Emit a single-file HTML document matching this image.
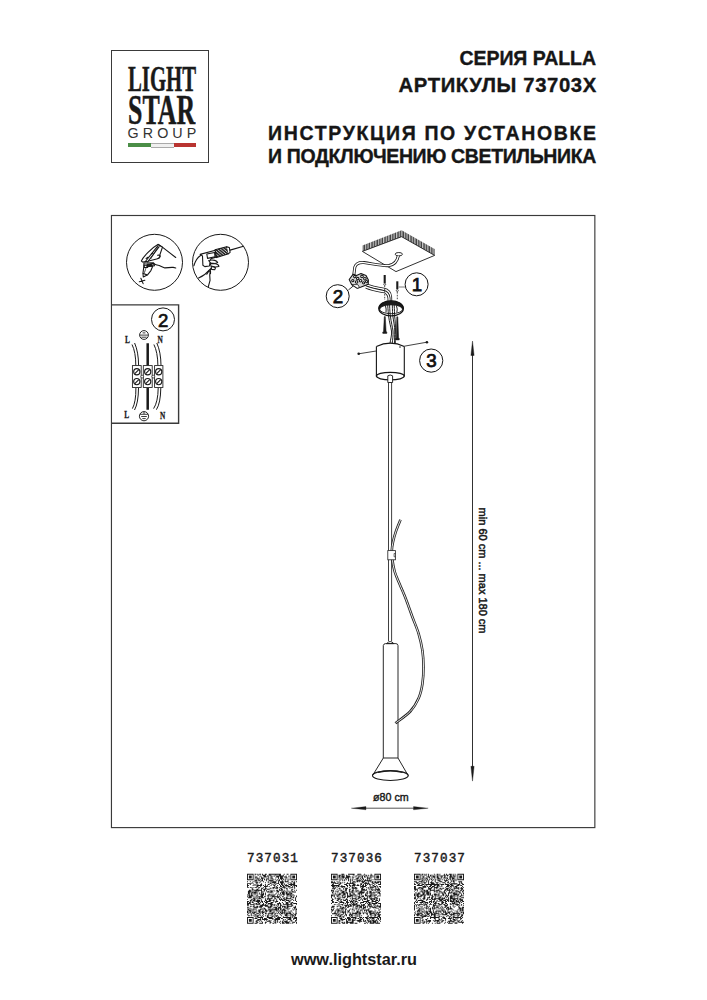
<!DOCTYPE html>
<html><head><meta charset="utf-8">
<style>
html,body{margin:0;padding:0;background:#fff;}
body{width:707px;height:1000px;position:relative;overflow:hidden;font-family:"Liberation Sans",sans-serif;color:#161616;}
.a{position:absolute;white-space:nowrap;line-height:1;}
.h{font-weight:bold;font-size:19.5px;-webkit-text-stroke:0.35px #161616;}
.logo{position:absolute;left:111px;top:50px;width:96px;height:111px;border:1px solid #3a3a3a;}
.lg{position:absolute;font-family:"Liberation Serif",serif;font-weight:bold;color:#1a1a1a;transform-origin:0 0;line-height:1;white-space:nowrap;}
.num{font-family:"Liberation Mono",monospace;font-size:12.6px;color:#1a1a1a;-webkit-text-stroke:0.45px #1a1a1a;}
svg{position:absolute;left:0;top:0;}
</style></head><body>

<div class="logo"></div>
<div class="lg" id="light" style="left:127.6px;top:61.4px;font-size:36.6px;transform:scaleX(0.567);-webkit-text-stroke:0.5px #1a1a1a;">LIGHT</div>
<div class="lg" id="star" style="left:127.8px;top:89.1px;font-size:42.4px;transform:scaleX(0.61);-webkit-text-stroke:0.5px #1a1a1a;">STAR</div>
<div class="a" id="group" style="left:127.5px;top:126.1px;font-size:14.3px;letter-spacing:4.1px;color:#333;">GROUP</div>
<div style="position:absolute;left:128px;top:143px;width:22.5px;height:4px;background:#4b8e47"></div>
<div style="position:absolute;left:150.5px;top:143px;width:23px;height:3px;background:#f0f0f0;border-top:0.5px solid #aaa;border-bottom:0.5px solid #aaa"></div>
<div style="position:absolute;left:173.5px;top:143px;width:22.5px;height:4px;background:#b93431"></div>

<div class="a h" id="t1" style="left:459.5px;top:48.5px;letter-spacing:-0.06px;">СЕРИЯ PALLA</div>
<div class="a h" id="t2" style="left:398.6px;top:74.5px;font-size:20.3px;letter-spacing:0.6px;">АРТИКУЛЫ 73703X</div>
<div class="a h" id="t3" style="left:268.1px;top:123.5px;letter-spacing:1.66px;">ИНСТРУКЦИЯ ПО УСТАНОВКЕ</div>
<div class="a h" id="t4" style="left:268.1px;top:147px;letter-spacing:-0.36px;">И ПОДКЛЮЧЕНИЮ СВЕТИЛЬНИКА</div>

<svg width="707" height="1000" viewBox="0 0 707 1000">
 <defs>
  <pattern id="hatch" width="2.6" height="4" patternUnits="userSpaceOnUse">
   <rect x="0" y="0" width="2.6" height="4" fill="#7a7a7a"/><rect x="0" y="0" width="0.8" height="4" fill="#222"/><rect x="0.8" y="0" width="0.6" height="4" fill="#f0f0f0"/>
  </pattern>
  <pattern id="dh" width="28" height="28" patternUnits="userSpaceOnUse" patternTransform="rotate(-50)">
   <rect x="0" y="0" width="28" height="28" fill="#2a2a2a"/><rect x="0" y="0" width="7" height="28" fill="#fff"/>
  </pattern>
 </defs>

 <!-- frames -->
 <g fill="none" stroke="#3a3a3a">
  <rect x="111.45" y="215.5" width="483.4" height="612.1" stroke-width="1.15"/>
  <path d="M111.45 304.9H178.6V423.2H111.45" stroke-width="1.4"/>
 </g>

 <!-- icon circles -->
 <g fill="none" stroke="#1a1a1a" stroke-width="1">
  <circle cx="154.5" cy="262.3" r="28"/>
  <circle cx="220.5" cy="262.3" r="28"/>
 </g>

 <!-- hand tester icon -->
 <g transform="translate(135,240) scale(0.06365)" fill="none" stroke="#161616" stroke-width="17" stroke-linejoin="round" stroke-linecap="round">
  <path d="M100,330 C130,262 250,132 365,68 L432,112 L392,228 C396,262 380,290 340,300 L200,335 L122,348 Z" fill="#fff"/>
  <path d="M365,70 L430,112 L640,275"/>
  <path d="M160,342 L362,88 M198,346 L380,104"/>
  <path d="M250,292 L360,110" stroke-dasharray="10,14" stroke-width="12"/>
  <path d="M175,290 L205,270 M258,218 L280,205"/>
  <path d="M355,240 Q395,230 395,260 Q388,290 355,290"/>
  <path d="M140,362 L290,360 L275,420 L250,480 L200,545 L130,582 L125,520 L140,410 Z" fill="#fff"/>
  <path d="M185,402 L145,522" stroke-dasharray="12,12" stroke-width="12"/>
  <path d="M128,528 L190,548"/>
  <path d="M142,395 L195,392 L198,430 L145,432 Z"/>
  <path d="M192,382 L255,378 L258,412 L196,418 Z" fill="#1e1e1e"/>
  <path d="M250,372 L300,365 L305,405 L258,412 Z"/>
  <path d="M285,370 Q330,395 380,400 Q420,418 470,438 Q540,428 600,430 L640,440"/>
  <path d="M92,600 L128,686 M68,656 L155,632"/>
 </g>

 <!-- drill icon -->
 <g transform="translate(192,240) scale(0.07779)" fill="none" stroke="#161616" stroke-width="14" stroke-linejoin="round" stroke-linecap="round">
  <path d="M25,330 Q50,240 110,200"/>
  <path d="M85,490 Q170,450 238,370"/>
  <path d="M238,372 Q222,450 232,520 L210,600"/>
  <path d="M105,185 L300,132 L308,220 L242,240 L232,300 L222,335 L165,342 L140,325 L135,205 Z" fill="#fff"/>
  <path d="M190,180 L290,160 L296,215 L200,236 Z"/>
  <path d="M296,126 L446,88 L470,176 L316,226 Z" fill="url(#dh)"/>
  <path d="M446,88 L480,96 L490,160 L470,176" fill="#fff"/>
  <path d="M490,130 L662,80" stroke-width="15"/>
  <path d="M215,265 Q250,250 292,262 Q322,272 330,290 L300,302 L240,296 Z" fill="#fff"/>
  <path d="M232,300 Q272,300 302,305 Q342,312 346,340 L300,346 L246,336 Z" fill="#fff"/>
  <path d="M246,340 Q282,345 302,356 L292,382 L252,378 Z" fill="#fff"/>
  <path d="M190,440 L215,400 L238,398 L238,432"/>
 </g>

 <!-- wiring diagram -->
 <g fill="none" stroke="#1a1a1a" stroke-width="0.9">
  <circle cx="163" cy="319.4" r="11.5" stroke-width="1"/>
  <!-- ground symbols -->
  <circle cx="144" cy="335" r="4.4" stroke-width="0.95"/>
  <path d="M142.6 332.9h2.8M140.1 335.1h7.8M141.3 337.2h5.4" stroke-width="0.85"/>
  <circle cx="144" cy="416.2" r="4.6" stroke-width="0.95"/>
  <path d="M144 411.8v2.3M140 414.3h8M141.2 416.5h5.6M142.3 418.6h3.4" stroke-width="0.85"/>
  <!-- L wires -->
  <path d="M132,344.5 Q135.8,352 135.8,365.5 M134.6,343 Q138.5,352 138.6,365.5" stroke-width="1"/>
  <path d="M135.9,388 Q136,402 132.4,408.6 M138.5,388 Q138.4,403 134.5,410" stroke-width="1"/>
  <!-- N wires -->
  <path d="M153.9,344.5 Q157.7,352 157.9,365.5 M156.8,343 Q160.9,352 161,365.5" stroke-width="1"/>
  <path d="M158.2,388 Q158,402 153.6,408.6 M160.8,388 Q160.6,403 156.4,409.7" stroke-width="1"/>
  <!-- ground bar -->
  <path d="M147.7,343.2V365.5M147.7,388V409.8" stroke-width="2.5"/>
  <!-- terminal blocks -->
  <rect x="132.4" y="365.6" width="8.8" height="21.9" fill="#fff" stroke-width="0.85"/>
  <rect x="143.3" y="365.6" width="8.9" height="21.9" fill="#fff" stroke-width="0.85"/>
  <rect x="154.6" y="365.6" width="8.3" height="21.9" fill="#fff" stroke-width="0.85"/>
  <g stroke-width="1.15">
   <circle cx="136.8" cy="371.7" r="3.1"/><circle cx="147.7" cy="371.7" r="3.1"/><circle cx="158.7" cy="371.7" r="3.1"/>
   <circle cx="136.8" cy="381.6" r="3.1"/><circle cx="147.7" cy="381.6" r="3.1"/><circle cx="158.7" cy="381.6" r="3.1"/>
  </g>
  <path d="M134.8,373.7l4-4M145.7,373.7l4-4M156.7,373.7l4-4M134.8,383.6l4-4M145.7,383.6l4-4M156.7,383.6l4-4" stroke-width="1.1"/>
  <circle cx="142.2" cy="376.6" r="1.4" fill="#fff" stroke-width="0.7"/>
  <circle cx="153.3" cy="376.6" r="1.4" fill="#fff" stroke-width="0.7"/>
 </g>
 <g font-family="Liberation Serif" font-weight="bold" font-size="10.2" fill="#1a1a1a" stroke="#1a1a1a" stroke-width="0.3">
  <text transform="translate(125.1,342.8) scale(0.72,1)">L</text>
  <text transform="translate(157.6,342.8) scale(0.72,1)">N</text>
  <text transform="translate(124.2,417.6) scale(0.72,1)">L</text>
  <text transform="translate(160.1,418.6) scale(0.72,1)">N</text>
 </g>
 <text x="158.1" y="327.3" font-family="Liberation Sans" font-size="18.6" fill="#111" stroke="#111" stroke-width="0.7">2</text>

 <!-- ceiling plate -->
 <path d="M362.4,245.5 L401.6,230.2 L434.6,249 L434.6,255.4 L401.6,236.7 L362.4,251.4 Z" fill="url(#hatch)"/>
 <g fill="none" stroke="#1a1a1a" stroke-width="0.9" stroke-linejoin="round">
  <path d="M362.4,251.4 L401.6,236.7 L434.6,255.4 L396,271.6 Z" fill="#fff"/>
  <ellipse cx="398.8" cy="254.2" rx="3.6" ry="1.7"/>
 </g>

 <!-- wires top -->
 <g fill="none" stroke-linecap="butt" stroke-linejoin="round">
  <path d="M398.4,255.6 C397.5,260 394.5,264.6 389,265.6 C382,266.2 372,263.6 364,262.6 C359,262.2 356,263.6 354.8,267.2 L353.8,275" stroke="#1a1a1a" stroke-width="3.0"/>
  <path d="M398.4,255.6 C397.5,260 394.5,264.6 389,265.6 C382,266.2 372,263.6 364,262.6 C359,262.2 356,263.6 354.8,267.2 L353.8,275" stroke="#fff" stroke-width="1.4"/>
  <path d="M366,284.6 C372,287.2 378,288.2 384,289.2 C388.5,290 390.2,292.5 390.6,297 L390.8,304" stroke="#1a1a1a" stroke-width="3.0"/>
  <path d="M366,284.6 C372,287.2 378,288.2 384,289.2 C388.5,290 390.2,292.5 390.6,297 L390.8,304" stroke="#fff" stroke-width="1.4"/>
  <path d="M366,287.2 C372,289.8 378,290.6 383.6,291.6 C387.4,292.4 388.6,294.6 389,298 L389.2,304" stroke="#1a1a1a" stroke-width="3.0"/>
  <path d="M366,287.2 C372,289.8 378,290.6 383.6,291.6 C387.4,292.4 388.6,294.6 389,298 L389.2,304" stroke="#fff" stroke-width="1.4"/>
 </g>
 <!-- connector -->
 <g stroke="#141414" stroke-width="1.1" stroke-linejoin="round">
  <path d="M349.2,279.5 L353.2,274.2 L356.5,275.4 L361,273.6 L366,275.4 L368.4,280 L368.2,284.3 L360.5,287.2 L357.3,288.2 L351.6,284.6 Z" fill="#d8d8d8"/>
  <path d="M351.6,284.6 L357.3,288.2 L359.5,287.4 L357.8,284.6 Z" fill="#fff" stroke-width="0.8"/>
  <g fill="#fff" stroke-width="1.05">
   <circle cx="354.8" cy="276.6" r="1.25"/><circle cx="357.7" cy="278.6" r="1.25"/>
   <circle cx="362" cy="276.4" r="1.3"/><circle cx="364.9" cy="278.8" r="1.3"/>
   <circle cx="352.8" cy="280.6" r="1.1"/><circle cx="356.6" cy="282" r="1.25"/><circle cx="360.6" cy="280.7" r="1.25"/>
   <circle cx="363.6" cy="282.8" r="1.1"/><circle cx="366.6" cy="281.6" r="1.1"/>
  </g>
 </g>
 <path d="M348.4,290 L353.1,286.1" stroke="#1a1a1a" stroke-width="0.9"/>

 <!-- screws -->
 <g stroke="#1a1a1a" fill="#1a1a1a">
  <path d="M384.7,275 V283" stroke-width="2.1"/>
  <circle cx="384.7" cy="284.3" r="1" fill="#fff" stroke-width="0.7"/>
  <path d="M384.7,285.6 V300" stroke-width="0.8" stroke-dasharray="1.6,1.2"/>
  <path d="M397.3,281.3 V289" stroke-width="2.1"/>
  <circle cx="397.3" cy="290.5" r="1" fill="#fff" stroke-width="0.7"/>
  <path d="M397.3,292 V300" stroke-width="0.8" stroke-dasharray="1.6,1.2"/>
  <path d="M398.5,287 H405" stroke-width="0.8" stroke="#555"/>
  <path d="M384.3,316.6 L385.3,316.6 L386.1,331.4 L386.9,332 L386.8,333.4 L382.8,333.4 L382.7,332 L383.5,331.4 Z" stroke-width="0.5"/>
  <path d="M396.8,316.8 L397.8,316.8 L398.6,338 L399.4,338.6 L399.2,339.9 L395.6,339.9 L395.5,338.6 L396.2,338 Z" stroke-width="0.5"/>
 </g>

 <!-- ring bracket -->
 <g fill="none" stroke="#141414" stroke-linejoin="round">
  <path d="M378.8,308.4 A12.3,7.5 0 0 1 403.4,308.4 L402.6,309.2 A11.5,4.5 0 0 0 379.6,309.2 Z" fill="#1a1a1a" stroke-width="0.6"/>
  <ellipse cx="391.1" cy="308.4" rx="12.3" ry="7.5" stroke-width="1.25"/>
  <ellipse cx="391.1" cy="309.2" rx="11.5" ry="4.5" stroke-width="0.9"/>
 </g>
 <!-- wires through ring -->
 <g fill="none" stroke="#141414" stroke-width="0.95">
  <path d="M387.7,305 C388,310 388.4,314 388.6,316 C389.2,322 391,327 391.5,331 C392,335 390.5,339 390,343.5"/>
  <path d="M389.6,304.5 C389.8,310 390,314 390.4,316 C391,322 392.6,327 393,331 C393.4,336 392.5,340 392.2,343.5"/>
  <path d="M392.3,304.5 C392.4,310 392.6,314 392.8,316 C393.6,321 394.8,327 394.8,331 C394.8,336 394.5,340 394.6,343.5"/>
  <path d="M394.2,305 C394.4,310 394.6,314 394.6,316 C395.2,320 395.6,326 395.4,331 C395.2,336 395.2,340 395.3,343.5"/>
  <path d="M385.5,306 Q386.5,309 386,312.5 M396.5,306 Q397.8,309 396.8,312.5"/>
 </g>

 <!-- canopy -->
 <g fill="none" stroke="#141414" stroke-width="1.1">
  <path d="M376.4,346.5 Q390.3,339.8 404.3,346.5" />
  <path d="M376.4,346.5 V376.2 M404.3,346.5 V376.2"/>
  <ellipse cx="390.35" cy="376.1" rx="13.95" ry="3.8" stroke-width="1.25"/>
  <path d="M376.2,351 L358.7,353.8 M404.3,346.2 L426.9,342.2" stroke-width="0.8"/>
 </g>
 <g fill="#1a1a1a">
  <circle cx="358.7" cy="353.8" r="1.3"/>
  <circle cx="426.9" cy="342.2" r="1.3"/>
  <circle cx="400" cy="347" r="0.8"/>
 </g>

 <!-- rod + lamp -->
 <g fill="none" stroke="#1e1e1e" stroke-width="0.95">
  <path d="M387.8,382.5 V375.8 Q390.2,374.2 392.6,375.8 V382.5 Z" fill="#fff"/>
  <path d="M388.5,382.5 V641 M391.6,382.5 V641" stroke="#2a2a2a" stroke-width="0.9"/>
  <path d="M386.6,643.6 Q390.2,639.5 393.8,643.6 Z" fill="#fff"/>
  <path d="M383.3,758 V645.5 Q383.6,643.7 385.5,643.6 H395.9 Q397.8,643.7 398,645.5 V758"/>
  <path d="M383.3,758 L372.5,775.6 M398,758 L408.2,775.6 M383.3,758 H398" stroke="#1a1a1a"/>
  <ellipse cx="390.35" cy="775.6" rx="17.9" ry="4.9" stroke="#1a1a1a" stroke-width="1.1"/>
  <path d="M378,772.3 Q390.3,769.2 402.7,772.3" stroke="#1a1a1a" stroke-width="1.3"/>
 </g>

 <!-- cable -->
 <g fill="none">
  <path d="M400.50,519.80 C399.75,521.70 397.25,527.50 396.00,531.20 C394.75,534.90 393.70,538.80 393.00,542.00 C392.30,545.20 391.90,547.40 391.80,550.40 C391.70,553.40 391.90,556.40 392.40,560.00 C392.90,563.60 393.60,568.00 394.80,572.00 C396.00,576.00 397.80,579.62 399.60,584.00 C401.40,588.38 403.47,592.80 405.60,598.30 C407.73,603.80 410.23,611.12 412.40,617.00 C414.57,622.88 416.93,628.03 418.60,633.60 C420.27,639.17 421.58,644.82 422.40,650.40 C423.22,655.98 423.50,661.50 423.50,667.10 C423.50,672.70 423.22,678.80 422.40,684.00 C421.58,689.20 420.63,693.72 418.60,698.30 C416.57,702.88 414.07,707.35 410.20,711.50 C406.33,715.65 397.87,721.25 395.40,723.20" stroke="#222" stroke-width="2.6" stroke-linecap="butt"/>
  <path d="M400.50,519.80 C399.75,521.70 397.25,527.50 396.00,531.20 C394.75,534.90 393.70,538.80 393.00,542.00 C392.30,545.20 391.90,547.40 391.80,550.40 C391.70,553.40 391.90,556.40 392.40,560.00 C392.90,563.60 393.60,568.00 394.80,572.00 C396.00,576.00 397.80,579.62 399.60,584.00 C401.40,588.38 403.47,592.80 405.60,598.30 C407.73,603.80 410.23,611.12 412.40,617.00 C414.57,622.88 416.93,628.03 418.60,633.60 C420.27,639.17 421.58,644.82 422.40,650.40 C423.22,655.98 423.50,661.50 423.50,667.10 C423.50,672.70 423.22,678.80 422.40,684.00 C421.58,689.20 420.63,693.72 418.60,698.30 C416.57,702.88 414.07,707.35 410.20,711.50 C406.33,715.65 397.87,721.25 395.40,723.20" stroke="#fff" stroke-width="0.9" stroke-linecap="butt"/>
 </g>
 <rect x="387.8" y="550.6" width="7.6" height="9.2" fill="#fff" stroke="#2a2a2a" stroke-width="0.85"/>
 <path d="M395.4,553.5 h-1.3 v3.3 h1.3" fill="none" stroke="#2a2a2a" stroke-width="0.7"/>

 <!-- label circles -->
 <g fill="none" stroke="#141414" stroke-width="1.0">
  <circle cx="416.6" cy="284.3" r="11.5"/>
  <circle cx="337.7" cy="296.2" r="11.5"/>
  <circle cx="431.2" cy="360.6" r="11.6"/>
 </g>
 <g font-family="Liberation Sans" font-size="18.8" fill="#111" stroke="#111" stroke-width="0.75" text-anchor="middle">
  <text x="417" y="291.1">1</text>
  <text x="338" y="303.1">2</text>
  <text x="431.6" y="367.4">3</text>
 </g>

 <!-- dimension arrows -->
 <g stroke="#1a1a1a" stroke-width="0.9" fill="#1a1a1a">
  <path d="M472.5,352 V770" fill="none"/>
  <path d="M472.5,341 L474.1,355.5 L470.9,355.5 Z" stroke-width="0.4"/>
  <path d="M472.5,781.1 L474.1,766.3 L470.9,766.3 Z" stroke-width="0.4"/>
  <path d="M362,808.2 H418" fill="none" stroke="#555" stroke-width="1"/>
  <path d="M351.3,808.2 L366,806.6 L366,809.8 Z" stroke-width="0.3"/>
  <path d="M428.2,808.2 L413.5,806.6 L413.5,809.8 Z" stroke-width="0.3"/>
 </g>
 <text x="373" y="801" font-family="Liberation Sans" font-size="10.7" fill="#1a1a1a" stroke="#1a1a1a" stroke-width="0.4">ø80 cm</text>
 <text transform="translate(478.8,507.6) rotate(90)" font-family="Liberation Sans" font-size="11" fill="#1a1a1a" stroke="#1a1a1a" stroke-width="0.5">min 60 cm ... max 180 cm</text>

 <!-- QR codes -->
 <g fill="#1a1a1a">
  <path d="M247.00 873.70h6.60v0.94h-6.60zM254.55 873.70h1.89v0.94h-1.89zM257.38 873.70h0.94v0.94h-0.94zM259.26 873.70h1.89v0.94h-1.89zM262.09 873.70h0.94v0.94h-0.94zM264.92 873.70h1.89v0.94h-1.89zM268.70 873.70h12.26v0.94h-12.26zM283.79 873.70h0.94v0.94h-0.94zM286.62 873.70h1.89v0.94h-1.89zM290.40 873.70h6.60v0.94h-6.60zM247.00 874.64h0.94v0.94h-0.94zM252.66 874.64h0.94v0.94h-0.94zM257.38 874.64h1.89v0.94h-1.89zM262.09 874.64h3.77v0.94h-3.77zM268.70 874.64h1.89v0.94h-1.89zM275.30 874.64h0.94v0.94h-0.94zM279.08 874.64h1.89v0.94h-1.89zM282.85 874.64h0.94v0.94h-0.94zM290.40 874.64h0.94v0.94h-0.94zM296.06 874.64h0.94v0.94h-0.94zM247.00 875.59h0.94v0.94h-0.94zM248.89 875.59h2.83v0.94h-2.83zM252.66 875.59h0.94v0.94h-0.94zM254.55 875.59h0.94v0.94h-0.94zM260.21 875.59h0.94v0.94h-0.94zM263.04 875.59h2.83v0.94h-2.83zM266.81 875.59h1.89v0.94h-1.89zM269.64 875.59h2.83v0.94h-2.83zM273.42 875.59h1.89v0.94h-1.89zM276.25 875.59h7.55v0.94h-7.55zM285.68 875.59h0.94v0.94h-0.94zM288.51 875.59h0.94v0.94h-0.94zM290.40 875.59h0.94v0.94h-0.94zM292.28 875.59h2.83v0.94h-2.83zM296.06 875.59h0.94v0.94h-0.94zM247.00 876.53h0.94v0.94h-0.94zM248.89 876.53h2.83v0.94h-2.83zM252.66 876.53h0.94v0.94h-0.94zM255.49 876.53h1.89v0.94h-1.89zM259.26 876.53h0.94v0.94h-0.94zM261.15 876.53h0.94v0.94h-0.94zM263.98 876.53h2.83v0.94h-2.83zM267.75 876.53h0.94v0.94h-0.94zM271.53 876.53h0.94v0.94h-0.94zM276.25 876.53h2.83v0.94h-2.83zM280.02 876.53h2.83v0.94h-2.83zM283.79 876.53h2.83v0.94h-2.83zM288.51 876.53h0.94v0.94h-0.94zM290.40 876.53h0.94v0.94h-0.94zM292.28 876.53h2.83v0.94h-2.83zM296.06 876.53h0.94v0.94h-0.94zM247.00 877.47h0.94v0.94h-0.94zM248.89 877.47h2.83v0.94h-2.83zM252.66 877.47h0.94v0.94h-0.94zM254.55 877.47h1.89v0.94h-1.89zM257.38 877.47h0.94v0.94h-0.94zM261.15 877.47h2.83v0.94h-2.83zM267.75 877.47h0.94v0.94h-0.94zM269.64 877.47h2.83v0.94h-2.83zM275.30 877.47h0.94v0.94h-0.94zM278.13 877.47h0.94v0.94h-0.94zM280.02 877.47h2.83v0.94h-2.83zM285.68 877.47h1.89v0.94h-1.89zM290.40 877.47h0.94v0.94h-0.94zM292.28 877.47h2.83v0.94h-2.83zM296.06 877.47h0.94v0.94h-0.94zM247.00 878.42h0.94v0.94h-0.94zM252.66 878.42h0.94v0.94h-0.94zM256.43 878.42h3.77v0.94h-3.77zM261.15 878.42h1.89v0.94h-1.89zM263.98 878.42h0.94v0.94h-0.94zM265.87 878.42h2.83v0.94h-2.83zM271.53 878.42h1.89v0.94h-1.89zM278.13 878.42h0.94v0.94h-0.94zM280.02 878.42h3.77v0.94h-3.77zM284.74 878.42h0.94v0.94h-0.94zM288.51 878.42h0.94v0.94h-0.94zM290.40 878.42h0.94v0.94h-0.94zM296.06 878.42h0.94v0.94h-0.94zM247.00 879.36h6.60v0.94h-6.60zM254.55 879.36h0.94v0.94h-0.94zM256.43 879.36h0.94v0.94h-0.94zM258.32 879.36h0.94v0.94h-0.94zM260.21 879.36h0.94v0.94h-0.94zM262.09 879.36h0.94v0.94h-0.94zM263.98 879.36h0.94v0.94h-0.94zM265.87 879.36h0.94v0.94h-0.94zM267.75 879.36h0.94v0.94h-0.94zM269.64 879.36h0.94v0.94h-0.94zM271.53 879.36h0.94v0.94h-0.94zM273.42 879.36h0.94v0.94h-0.94zM275.30 879.36h0.94v0.94h-0.94zM277.19 879.36h0.94v0.94h-0.94zM279.08 879.36h0.94v0.94h-0.94zM280.96 879.36h0.94v0.94h-0.94zM282.85 879.36h0.94v0.94h-0.94zM284.74 879.36h0.94v0.94h-0.94zM286.62 879.36h0.94v0.94h-0.94zM288.51 879.36h0.94v0.94h-0.94zM290.40 879.36h6.60v0.94h-6.60zM254.55 880.30h2.83v0.94h-2.83zM258.32 880.30h1.89v0.94h-1.89zM261.15 880.30h1.89v0.94h-1.89zM265.87 880.30h0.94v0.94h-0.94zM268.70 880.30h4.72v0.94h-4.72zM276.25 880.30h0.94v0.94h-0.94zM278.13 880.30h1.89v0.94h-1.89zM281.91 880.30h0.94v0.94h-0.94zM284.74 880.30h0.94v0.94h-0.94zM287.57 880.30h0.94v0.94h-0.94zM247.00 881.25h0.94v0.94h-0.94zM249.83 881.25h0.94v0.94h-0.94zM252.66 881.25h0.94v0.94h-0.94zM254.55 881.25h0.94v0.94h-0.94zM256.43 881.25h0.94v0.94h-0.94zM260.21 881.25h0.94v0.94h-0.94zM263.04 881.25h0.94v0.94h-0.94zM267.75 881.25h0.94v0.94h-0.94zM270.58 881.25h0.94v0.94h-0.94zM272.47 881.25h3.77v0.94h-3.77zM278.13 881.25h0.94v0.94h-0.94zM280.02 881.25h3.77v0.94h-3.77zM284.74 881.25h3.77v0.94h-3.77zM291.34 881.25h1.89v0.94h-1.89zM294.17 881.25h0.94v0.94h-0.94zM296.06 881.25h0.94v0.94h-0.94zM251.72 882.19h0.94v0.94h-0.94zM255.49 882.19h2.83v0.94h-2.83zM259.26 882.19h0.94v0.94h-0.94zM264.92 882.19h0.94v0.94h-0.94zM267.75 882.19h0.94v0.94h-0.94zM269.64 882.19h0.94v0.94h-0.94zM271.53 882.19h4.72v0.94h-4.72zM278.13 882.19h0.94v0.94h-0.94zM280.02 882.19h3.77v0.94h-3.77zM288.51 882.19h0.94v0.94h-0.94zM290.40 882.19h0.94v0.94h-0.94zM293.23 882.19h1.89v0.94h-1.89zM247.00 883.13h4.72v0.94h-4.72zM252.66 883.13h0.94v0.94h-0.94zM256.43 883.13h0.94v0.94h-0.94zM261.15 883.13h0.94v0.94h-0.94zM269.64 883.13h1.89v0.94h-1.89zM274.36 883.13h0.94v0.94h-0.94zM276.25 883.13h2.83v0.94h-2.83zM280.96 883.13h1.89v0.94h-1.89zM283.79 883.13h0.94v0.94h-0.94zM287.57 883.13h0.94v0.94h-0.94zM290.40 883.13h1.89v0.94h-1.89zM293.23 883.13h1.89v0.94h-1.89zM247.00 884.08h0.94v0.94h-0.94zM249.83 884.08h0.94v0.94h-0.94zM253.60 884.08h0.94v0.94h-0.94zM255.49 884.08h0.94v0.94h-0.94zM257.38 884.08h0.94v0.94h-0.94zM260.21 884.08h1.89v0.94h-1.89zM264.92 884.08h0.94v0.94h-0.94zM267.75 884.08h1.89v0.94h-1.89zM271.53 884.08h0.94v0.94h-0.94zM273.42 884.08h0.94v0.94h-0.94zM275.30 884.08h0.94v0.94h-0.94zM279.08 884.08h0.94v0.94h-0.94zM280.96 884.08h1.89v0.94h-1.89zM283.79 884.08h0.94v0.94h-0.94zM285.68 884.08h0.94v0.94h-0.94zM288.51 884.08h6.60v0.94h-6.60zM247.00 885.02h1.89v0.94h-1.89zM252.66 885.02h0.94v0.94h-0.94zM254.55 885.02h0.94v0.94h-0.94zM256.43 885.02h5.66v0.94h-5.66zM263.04 885.02h0.94v0.94h-0.94zM264.92 885.02h0.94v0.94h-0.94zM266.81 885.02h0.94v0.94h-0.94zM270.58 885.02h0.94v0.94h-0.94zM273.42 885.02h1.89v0.94h-1.89zM277.19 885.02h0.94v0.94h-0.94zM280.02 885.02h0.94v0.94h-0.94zM281.91 885.02h1.89v0.94h-1.89zM284.74 885.02h3.77v0.94h-3.77zM290.40 885.02h1.89v0.94h-1.89zM293.23 885.02h3.77v0.94h-3.77zM247.00 885.96h0.94v0.94h-0.94zM256.43 885.96h1.89v0.94h-1.89zM260.21 885.96h0.94v0.94h-0.94zM263.98 885.96h3.77v0.94h-3.77zM268.70 885.96h0.94v0.94h-0.94zM274.36 885.96h0.94v0.94h-0.94zM276.25 885.96h0.94v0.94h-0.94zM280.02 885.96h1.89v0.94h-1.89zM282.85 885.96h1.89v0.94h-1.89zM285.68 885.96h0.94v0.94h-0.94zM287.57 885.96h2.83v0.94h-2.83zM292.28 885.96h0.94v0.94h-0.94zM294.17 885.96h0.94v0.94h-0.94zM296.06 885.96h0.94v0.94h-0.94zM247.00 886.91h1.89v0.94h-1.89zM249.83 886.91h1.89v0.94h-1.89zM252.66 886.91h0.94v0.94h-0.94zM254.55 886.91h2.83v0.94h-2.83zM258.32 886.91h1.89v0.94h-1.89zM263.04 886.91h0.94v0.94h-0.94zM264.92 886.91h0.94v0.94h-0.94zM272.47 886.91h2.83v0.94h-2.83zM276.25 886.91h1.89v0.94h-1.89zM279.08 886.91h0.94v0.94h-0.94zM281.91 886.91h3.77v0.94h-3.77zM288.51 886.91h0.94v0.94h-0.94zM290.40 886.91h2.83v0.94h-2.83zM294.17 886.91h0.94v0.94h-0.94zM251.72 887.85h0.94v0.94h-0.94zM258.32 887.85h0.94v0.94h-0.94zM261.15 887.85h1.89v0.94h-1.89zM264.92 887.85h1.89v0.94h-1.89zM269.64 887.85h1.89v0.94h-1.89zM272.47 887.85h1.89v0.94h-1.89zM275.30 887.85h2.83v0.94h-2.83zM280.02 887.85h1.89v0.94h-1.89zM283.79 887.85h0.94v0.94h-0.94zM285.68 887.85h1.89v0.94h-1.89zM289.45 887.85h0.94v0.94h-0.94zM294.17 887.85h0.94v0.94h-0.94zM251.72 888.79h1.89v0.94h-1.89zM256.43 888.79h1.89v0.94h-1.89zM261.15 888.79h0.94v0.94h-0.94zM263.04 888.79h2.83v0.94h-2.83zM266.81 888.79h2.83v0.94h-2.83zM279.08 888.79h0.94v0.94h-0.94zM280.96 888.79h1.89v0.94h-1.89zM286.62 888.79h0.94v0.94h-0.94zM291.34 888.79h1.89v0.94h-1.89zM248.89 889.74h1.89v0.94h-1.89zM251.72 889.74h0.94v0.94h-0.94zM253.60 889.74h8.49v0.94h-8.49zM263.98 889.74h0.94v0.94h-0.94zM265.87 889.74h0.94v0.94h-0.94zM269.64 889.74h0.94v0.94h-0.94zM271.53 889.74h0.94v0.94h-0.94zM273.42 889.74h0.94v0.94h-0.94zM276.25 889.74h1.89v0.94h-1.89zM279.08 889.74h3.77v0.94h-3.77zM283.79 889.74h0.94v0.94h-0.94zM286.62 889.74h0.94v0.94h-0.94zM291.34 889.74h0.94v0.94h-0.94zM294.17 889.74h0.94v0.94h-0.94zM296.06 889.74h0.94v0.94h-0.94zM247.94 890.68h3.77v0.94h-3.77zM252.66 890.68h0.94v0.94h-0.94zM255.49 890.68h1.89v0.94h-1.89zM258.32 890.68h0.94v0.94h-0.94zM261.15 890.68h0.94v0.94h-0.94zM263.04 890.68h1.89v0.94h-1.89zM265.87 890.68h0.94v0.94h-0.94zM267.75 890.68h0.94v0.94h-0.94zM270.58 890.68h1.89v0.94h-1.89zM274.36 890.68h0.94v0.94h-0.94zM276.25 890.68h2.83v0.94h-2.83zM282.85 890.68h0.94v0.94h-0.94zM284.74 890.68h0.94v0.94h-0.94zM287.57 890.68h1.89v0.94h-1.89zM290.40 890.68h2.83v0.94h-2.83zM247.94 891.62h2.83v0.94h-2.83zM251.72 891.62h0.94v0.94h-0.94zM253.60 891.62h2.83v0.94h-2.83zM257.38 891.62h0.94v0.94h-0.94zM261.15 891.62h1.89v0.94h-1.89zM266.81 891.62h6.60v0.94h-6.60zM277.19 891.62h1.89v0.94h-1.89zM280.96 891.62h3.77v0.94h-3.77zM285.68 891.62h1.89v0.94h-1.89zM289.45 891.62h0.94v0.94h-0.94zM292.28 891.62h3.77v0.94h-3.77zM247.94 892.57h1.89v0.94h-1.89zM250.77 892.57h6.60v0.94h-6.60zM259.26 892.57h0.94v0.94h-0.94zM261.15 892.57h0.94v0.94h-0.94zM263.04 892.57h0.94v0.94h-0.94zM264.92 892.57h0.94v0.94h-0.94zM270.58 892.57h0.94v0.94h-0.94zM276.25 892.57h0.94v0.94h-0.94zM280.02 892.57h0.94v0.94h-0.94zM281.91 892.57h2.83v0.94h-2.83zM285.68 892.57h1.89v0.94h-1.89zM288.51 892.57h3.77v0.94h-3.77zM247.94 893.51h1.89v0.94h-1.89zM250.77 893.51h0.94v0.94h-0.94zM254.55 893.51h0.94v0.94h-0.94zM257.38 893.51h0.94v0.94h-0.94zM259.26 893.51h0.94v0.94h-0.94zM261.15 893.51h2.83v0.94h-2.83zM264.92 893.51h0.94v0.94h-0.94zM268.70 893.51h0.94v0.94h-0.94zM272.47 893.51h0.94v0.94h-0.94zM275.30 893.51h0.94v0.94h-0.94zM278.13 893.51h0.94v0.94h-0.94zM280.02 893.51h0.94v0.94h-0.94zM281.91 893.51h2.83v0.94h-2.83zM285.68 893.51h3.77v0.94h-3.77zM290.40 893.51h1.89v0.94h-1.89zM247.00 894.45h0.94v0.94h-0.94zM248.89 894.45h0.94v0.94h-0.94zM250.77 894.45h2.83v0.94h-2.83zM254.55 894.45h0.94v0.94h-0.94zM256.43 894.45h0.94v0.94h-0.94zM260.21 894.45h3.77v0.94h-3.77zM264.92 894.45h0.94v0.94h-0.94zM267.75 894.45h4.72v0.94h-4.72zM273.42 894.45h1.89v0.94h-1.89zM277.19 894.45h0.94v0.94h-0.94zM279.08 894.45h0.94v0.94h-0.94zM280.96 894.45h0.94v0.94h-0.94zM282.85 894.45h1.89v0.94h-1.89zM286.62 894.45h4.72v0.94h-4.72zM292.28 894.45h1.89v0.94h-1.89zM247.94 895.40h4.72v0.94h-4.72zM256.43 895.40h1.89v0.94h-1.89zM261.15 895.40h1.89v0.94h-1.89zM266.81 895.40h1.89v0.94h-1.89zM271.53 895.40h2.83v0.94h-2.83zM277.19 895.40h0.94v0.94h-0.94zM280.02 895.40h0.94v0.94h-0.94zM286.62 895.40h0.94v0.94h-0.94zM290.40 895.40h1.89v0.94h-1.89zM294.17 895.40h0.94v0.94h-0.94zM296.06 895.40h0.94v0.94h-0.94zM247.00 896.34h0.94v0.94h-0.94zM248.89 896.34h2.83v0.94h-2.83zM252.66 896.34h0.94v0.94h-0.94zM254.55 896.34h0.94v0.94h-0.94zM256.43 896.34h0.94v0.94h-0.94zM258.32 896.34h4.72v0.94h-4.72zM263.98 896.34h1.89v0.94h-1.89zM267.75 896.34h0.94v0.94h-0.94zM269.64 896.34h0.94v0.94h-0.94zM271.53 896.34h8.49v0.94h-8.49zM281.91 896.34h1.89v0.94h-1.89zM286.62 896.34h0.94v0.94h-0.94zM288.51 896.34h0.94v0.94h-0.94zM290.40 896.34h1.89v0.94h-1.89zM293.23 896.34h0.94v0.94h-0.94zM296.06 896.34h0.94v0.94h-0.94zM247.94 897.28h3.77v0.94h-3.77zM253.60 897.28h0.94v0.94h-0.94zM255.49 897.28h0.94v0.94h-0.94zM257.38 897.28h0.94v0.94h-0.94zM259.26 897.28h0.94v0.94h-0.94zM261.15 897.28h2.83v0.94h-2.83zM267.75 897.28h0.94v0.94h-0.94zM271.53 897.28h0.94v0.94h-0.94zM274.36 897.28h0.94v0.94h-0.94zM277.19 897.28h1.89v0.94h-1.89zM280.02 897.28h0.94v0.94h-0.94zM283.79 897.28h0.94v0.94h-0.94zM285.68 897.28h1.89v0.94h-1.89zM290.40 897.28h0.94v0.94h-0.94zM292.28 897.28h1.89v0.94h-1.89zM295.11 897.28h0.94v0.94h-0.94zM252.66 898.23h2.83v0.94h-2.83zM256.43 898.23h0.94v0.94h-0.94zM258.32 898.23h2.83v0.94h-2.83zM264.92 898.23h0.94v0.94h-0.94zM266.81 898.23h5.66v0.94h-5.66zM274.36 898.23h1.89v0.94h-1.89zM279.08 898.23h0.94v0.94h-0.94zM280.96 898.23h0.94v0.94h-0.94zM282.85 898.23h1.89v0.94h-1.89zM285.68 898.23h5.66v0.94h-5.66zM295.11 898.23h0.94v0.94h-0.94zM247.00 899.17h0.94v0.94h-0.94zM250.77 899.17h1.89v0.94h-1.89zM253.60 899.17h1.89v0.94h-1.89zM257.38 899.17h0.94v0.94h-0.94zM261.15 899.17h0.94v0.94h-0.94zM264.92 899.17h0.94v0.94h-0.94zM266.81 899.17h0.94v0.94h-0.94zM268.70 899.17h1.89v0.94h-1.89zM273.42 899.17h0.94v0.94h-0.94zM276.25 899.17h0.94v0.94h-0.94zM279.08 899.17h3.77v0.94h-3.77zM283.79 899.17h2.83v0.94h-2.83zM291.34 899.17h1.89v0.94h-1.89zM295.11 899.17h0.94v0.94h-0.94zM249.83 900.12h1.89v0.94h-1.89zM252.66 900.12h2.83v0.94h-2.83zM256.43 900.12h3.77v0.94h-3.77zM261.15 900.12h0.94v0.94h-0.94zM264.92 900.12h1.89v0.94h-1.89zM268.70 900.12h2.83v0.94h-2.83zM272.47 900.12h1.89v0.94h-1.89zM276.25 900.12h0.94v0.94h-0.94zM280.02 900.12h0.94v0.94h-0.94zM281.91 900.12h2.83v0.94h-2.83zM285.68 900.12h3.77v0.94h-3.77zM290.40 900.12h0.94v0.94h-0.94zM293.23 900.12h0.94v0.94h-0.94zM295.11 900.12h0.94v0.94h-0.94zM247.00 901.06h1.89v0.94h-1.89zM249.83 901.06h0.94v0.94h-0.94zM251.72 901.06h0.94v0.94h-0.94zM253.60 901.06h0.94v0.94h-0.94zM255.49 901.06h4.72v0.94h-4.72zM261.15 901.06h1.89v0.94h-1.89zM263.98 901.06h0.94v0.94h-0.94zM265.87 901.06h4.72v0.94h-4.72zM273.42 901.06h0.94v0.94h-0.94zM275.30 901.06h2.83v0.94h-2.83zM284.74 901.06h0.94v0.94h-0.94zM288.51 901.06h1.89v0.94h-1.89zM296.06 901.06h0.94v0.94h-0.94zM247.00 902.00h0.94v0.94h-0.94zM248.89 902.00h1.89v0.94h-1.89zM251.72 902.00h1.89v0.94h-1.89zM257.38 902.00h1.89v0.94h-1.89zM260.21 902.00h0.94v0.94h-0.94zM262.09 902.00h0.94v0.94h-0.94zM264.92 902.00h2.83v0.94h-2.83zM270.58 902.00h2.83v0.94h-2.83zM275.30 902.00h0.94v0.94h-0.94zM279.08 902.00h0.94v0.94h-0.94zM281.91 902.00h0.94v0.94h-0.94zM285.68 902.00h2.83v0.94h-2.83zM289.45 902.00h0.94v0.94h-0.94zM291.34 902.00h1.89v0.94h-1.89zM247.00 902.95h3.77v0.94h-3.77zM253.60 902.95h0.94v0.94h-0.94zM255.49 902.95h1.89v0.94h-1.89zM258.32 902.95h1.89v0.94h-1.89zM263.04 902.95h0.94v0.94h-0.94zM265.87 902.95h0.94v0.94h-0.94zM267.75 902.95h4.72v0.94h-4.72zM277.19 902.95h3.77v0.94h-3.77zM282.85 902.95h0.94v0.94h-0.94zM285.68 902.95h2.83v0.94h-2.83zM290.40 902.95h1.89v0.94h-1.89zM293.23 902.95h3.77v0.94h-3.77zM247.00 903.89h1.89v0.94h-1.89zM249.83 903.89h4.72v0.94h-4.72zM255.49 903.89h4.72v0.94h-4.72zM262.09 903.89h1.89v0.94h-1.89zM264.92 903.89h0.94v0.94h-0.94zM267.75 903.89h0.94v0.94h-0.94zM269.64 903.89h3.77v0.94h-3.77zM274.36 903.89h0.94v0.94h-0.94zM277.19 903.89h1.89v0.94h-1.89zM280.02 903.89h0.94v0.94h-0.94zM282.85 903.89h9.43v0.94h-9.43zM296.06 903.89h0.94v0.94h-0.94zM247.00 904.83h1.89v0.94h-1.89zM253.60 904.83h0.94v0.94h-0.94zM260.21 904.83h7.55v0.94h-7.55zM270.58 904.83h1.89v0.94h-1.89zM273.42 904.83h1.89v0.94h-1.89zM276.25 904.83h0.94v0.94h-0.94zM278.13 904.83h0.94v0.94h-0.94zM280.02 904.83h1.89v0.94h-1.89zM286.62 904.83h1.89v0.94h-1.89zM291.34 904.83h1.89v0.94h-1.89zM249.83 905.78h1.89v0.94h-1.89zM252.66 905.78h1.89v0.94h-1.89zM256.43 905.78h1.89v0.94h-1.89zM259.26 905.78h3.77v0.94h-3.77zM264.92 905.78h3.77v0.94h-3.77zM269.64 905.78h2.83v0.94h-2.83zM277.19 905.78h0.94v0.94h-0.94zM280.02 905.78h0.94v0.94h-0.94zM281.91 905.78h3.77v0.94h-3.77zM286.62 905.78h5.66v0.94h-5.66zM295.11 905.78h0.94v0.94h-0.94zM247.00 906.72h1.89v0.94h-1.89zM253.60 906.72h4.72v0.94h-4.72zM259.26 906.72h2.83v0.94h-2.83zM267.75 906.72h3.77v0.94h-3.77zM273.42 906.72h3.77v0.94h-3.77zM278.13 906.72h2.83v0.94h-2.83zM281.91 906.72h0.94v0.94h-0.94zM283.79 906.72h1.89v0.94h-1.89zM286.62 906.72h1.89v0.94h-1.89zM293.23 906.72h2.83v0.94h-2.83zM248.89 907.66h1.89v0.94h-1.89zM252.66 907.66h0.94v0.94h-0.94zM254.55 907.66h0.94v0.94h-0.94zM256.43 907.66h0.94v0.94h-0.94zM263.04 907.66h1.89v0.94h-1.89zM267.75 907.66h0.94v0.94h-0.94zM269.64 907.66h0.94v0.94h-0.94zM272.47 907.66h0.94v0.94h-0.94zM275.30 907.66h1.89v0.94h-1.89zM278.13 907.66h2.83v0.94h-2.83zM284.74 907.66h3.77v0.94h-3.77zM289.45 907.66h0.94v0.94h-0.94zM294.17 907.66h1.89v0.94h-1.89zM247.00 908.61h1.89v0.94h-1.89zM250.77 908.61h0.94v0.94h-0.94zM253.60 908.61h0.94v0.94h-0.94zM255.49 908.61h0.94v0.94h-0.94zM260.21 908.61h2.83v0.94h-2.83zM263.98 908.61h1.89v0.94h-1.89zM268.70 908.61h0.94v0.94h-0.94zM270.58 908.61h0.94v0.94h-0.94zM272.47 908.61h0.94v0.94h-0.94zM274.36 908.61h4.72v0.94h-4.72zM280.02 908.61h1.89v0.94h-1.89zM282.85 908.61h1.89v0.94h-1.89zM286.62 908.61h0.94v0.94h-0.94zM288.51 908.61h0.94v0.94h-0.94zM292.28 908.61h0.94v0.94h-0.94zM294.17 908.61h0.94v0.94h-0.94zM296.06 908.61h0.94v0.94h-0.94zM247.94 909.55h2.83v0.94h-2.83zM251.72 909.55h2.83v0.94h-2.83zM255.49 909.55h0.94v0.94h-0.94zM258.32 909.55h2.83v0.94h-2.83zM263.04 909.55h0.94v0.94h-0.94zM264.92 909.55h1.89v0.94h-1.89zM267.75 909.55h9.43v0.94h-9.43zM278.13 909.55h0.94v0.94h-0.94zM280.02 909.55h0.94v0.94h-0.94zM281.91 909.55h3.77v0.94h-3.77zM287.57 909.55h0.94v0.94h-0.94zM293.23 909.55h0.94v0.94h-0.94zM295.11 909.55h1.89v0.94h-1.89zM247.00 910.49h0.94v0.94h-0.94zM248.89 910.49h2.83v0.94h-2.83zM256.43 910.49h0.94v0.94h-0.94zM258.32 910.49h1.89v0.94h-1.89zM262.09 910.49h0.94v0.94h-0.94zM264.92 910.49h2.83v0.94h-2.83zM269.64 910.49h1.89v0.94h-1.89zM276.25 910.49h1.89v0.94h-1.89zM279.08 910.49h0.94v0.94h-0.94zM280.96 910.49h1.89v0.94h-1.89zM283.79 910.49h2.83v0.94h-2.83zM290.40 910.49h1.89v0.94h-1.89zM247.00 911.44h1.89v0.94h-1.89zM249.83 911.44h0.94v0.94h-0.94zM251.72 911.44h4.72v0.94h-4.72zM258.32 911.44h6.60v0.94h-6.60zM265.87 911.44h0.94v0.94h-0.94zM268.70 911.44h2.83v0.94h-2.83zM272.47 911.44h2.83v0.94h-2.83zM278.13 911.44h0.94v0.94h-0.94zM280.02 911.44h0.94v0.94h-0.94zM281.91 911.44h0.94v0.94h-0.94zM283.79 911.44h0.94v0.94h-0.94zM287.57 911.44h2.83v0.94h-2.83zM295.11 911.44h1.89v0.94h-1.89zM247.00 912.38h0.94v0.94h-0.94zM248.89 912.38h1.89v0.94h-1.89zM251.72 912.38h0.94v0.94h-0.94zM253.60 912.38h1.89v0.94h-1.89zM256.43 912.38h0.94v0.94h-0.94zM259.26 912.38h0.94v0.94h-0.94zM262.09 912.38h1.89v0.94h-1.89zM264.92 912.38h0.94v0.94h-0.94zM271.53 912.38h1.89v0.94h-1.89zM276.25 912.38h0.94v0.94h-0.94zM278.13 912.38h0.94v0.94h-0.94zM280.02 912.38h7.55v0.94h-7.55zM289.45 912.38h1.89v0.94h-1.89zM292.28 912.38h0.94v0.94h-0.94zM247.94 913.32h0.94v0.94h-0.94zM250.77 913.32h0.94v0.94h-0.94zM252.66 913.32h1.89v0.94h-1.89zM256.43 913.32h2.83v0.94h-2.83zM260.21 913.32h0.94v0.94h-0.94zM262.09 913.32h0.94v0.94h-0.94zM264.92 913.32h1.89v0.94h-1.89zM267.75 913.32h5.66v0.94h-5.66zM274.36 913.32h1.89v0.94h-1.89zM277.19 913.32h0.94v0.94h-0.94zM279.08 913.32h0.94v0.94h-0.94zM280.96 913.32h1.89v0.94h-1.89zM283.79 913.32h0.94v0.94h-0.94zM285.68 913.32h5.66v0.94h-5.66zM293.23 913.32h0.94v0.94h-0.94zM295.11 913.32h1.89v0.94h-1.89zM247.00 914.27h0.94v0.94h-0.94zM250.77 914.27h0.94v0.94h-0.94zM254.55 914.27h1.89v0.94h-1.89zM259.26 914.27h0.94v0.94h-0.94zM263.04 914.27h0.94v0.94h-0.94zM267.75 914.27h0.94v0.94h-0.94zM271.53 914.27h0.94v0.94h-0.94zM274.36 914.27h0.94v0.94h-0.94zM280.02 914.27h0.94v0.94h-0.94zM284.74 914.27h2.83v0.94h-2.83zM290.40 914.27h2.83v0.94h-2.83zM294.17 914.27h1.89v0.94h-1.89zM247.94 915.21h1.89v0.94h-1.89zM250.77 915.21h0.94v0.94h-0.94zM252.66 915.21h0.94v0.94h-0.94zM254.55 915.21h0.94v0.94h-0.94zM256.43 915.21h2.83v0.94h-2.83zM260.21 915.21h0.94v0.94h-0.94zM262.09 915.21h0.94v0.94h-0.94zM264.92 915.21h0.94v0.94h-0.94zM266.81 915.21h1.89v0.94h-1.89zM269.64 915.21h0.94v0.94h-0.94zM271.53 915.21h0.94v0.94h-0.94zM273.42 915.21h0.94v0.94h-0.94zM275.30 915.21h2.83v0.94h-2.83zM280.96 915.21h0.94v0.94h-0.94zM284.74 915.21h2.83v0.94h-2.83zM288.51 915.21h0.94v0.94h-0.94zM290.40 915.21h0.94v0.94h-0.94zM292.28 915.21h1.89v0.94h-1.89zM295.11 915.21h0.94v0.94h-0.94zM254.55 916.15h0.94v0.94h-0.94zM256.43 916.15h1.89v0.94h-1.89zM261.15 916.15h0.94v0.94h-0.94zM263.04 916.15h0.94v0.94h-0.94zM266.81 916.15h1.89v0.94h-1.89zM271.53 916.15h1.89v0.94h-1.89zM274.36 916.15h0.94v0.94h-0.94zM276.25 916.15h0.94v0.94h-0.94zM278.13 916.15h0.94v0.94h-0.94zM282.85 916.15h0.94v0.94h-0.94zM286.62 916.15h0.94v0.94h-0.94zM290.40 916.15h0.94v0.94h-0.94zM292.28 916.15h0.94v0.94h-0.94zM294.17 916.15h0.94v0.94h-0.94zM247.00 917.10h6.60v0.94h-6.60zM255.49 917.10h0.94v0.94h-0.94zM257.38 917.10h5.66v0.94h-5.66zM266.81 917.10h5.66v0.94h-5.66zM274.36 917.10h0.94v0.94h-0.94zM277.19 917.10h3.77v0.94h-3.77zM282.85 917.10h8.49v0.94h-8.49zM292.28 917.10h0.94v0.94h-0.94zM294.17 917.10h2.83v0.94h-2.83zM247.00 918.04h0.94v0.94h-0.94zM252.66 918.04h0.94v0.94h-0.94zM254.55 918.04h2.83v0.94h-2.83zM260.21 918.04h0.94v0.94h-0.94zM262.09 918.04h0.94v0.94h-0.94zM263.98 918.04h2.83v0.94h-2.83zM268.70 918.04h4.72v0.94h-4.72zM275.30 918.04h4.72v0.94h-4.72zM280.96 918.04h1.89v0.94h-1.89zM286.62 918.04h0.94v0.94h-0.94zM288.51 918.04h2.83v0.94h-2.83zM293.23 918.04h3.77v0.94h-3.77zM247.00 918.98h0.94v0.94h-0.94zM248.89 918.98h2.83v0.94h-2.83zM252.66 918.98h0.94v0.94h-0.94zM257.38 918.98h3.77v0.94h-3.77zM262.09 918.98h5.66v0.94h-5.66zM272.47 918.98h0.94v0.94h-0.94zM274.36 918.98h5.66v0.94h-5.66zM282.85 918.98h0.94v0.94h-0.94zM284.74 918.98h0.94v0.94h-0.94zM287.57 918.98h3.77v0.94h-3.77zM293.23 918.98h0.94v0.94h-0.94zM296.06 918.98h0.94v0.94h-0.94zM247.00 919.93h0.94v0.94h-0.94zM248.89 919.93h2.83v0.94h-2.83zM252.66 919.93h0.94v0.94h-0.94zM256.43 919.93h2.83v0.94h-2.83zM260.21 919.93h0.94v0.94h-0.94zM263.98 919.93h0.94v0.94h-0.94zM265.87 919.93h0.94v0.94h-0.94zM268.70 919.93h0.94v0.94h-0.94zM270.58 919.93h0.94v0.94h-0.94zM274.36 919.93h1.89v0.94h-1.89zM277.19 919.93h0.94v0.94h-0.94zM282.85 919.93h0.94v0.94h-0.94zM286.62 919.93h0.94v0.94h-0.94zM290.40 919.93h1.89v0.94h-1.89zM295.11 919.93h1.89v0.94h-1.89zM247.00 920.87h0.94v0.94h-0.94zM248.89 920.87h2.83v0.94h-2.83zM252.66 920.87h0.94v0.94h-0.94zM255.49 920.87h1.89v0.94h-1.89zM259.26 920.87h0.94v0.94h-0.94zM261.15 920.87h0.94v0.94h-0.94zM266.81 920.87h3.77v0.94h-3.77zM273.42 920.87h0.94v0.94h-0.94zM275.30 920.87h0.94v0.94h-0.94zM277.19 920.87h0.94v0.94h-0.94zM280.02 920.87h0.94v0.94h-0.94zM281.91 920.87h0.94v0.94h-0.94zM283.79 920.87h3.77v0.94h-3.77zM289.45 920.87h0.94v0.94h-0.94zM291.34 920.87h0.94v0.94h-0.94zM295.11 920.87h0.94v0.94h-0.94zM247.00 921.81h0.94v0.94h-0.94zM252.66 921.81h0.94v0.94h-0.94zM256.43 921.81h1.89v0.94h-1.89zM262.09 921.81h0.94v0.94h-0.94zM264.92 921.81h1.89v0.94h-1.89zM269.64 921.81h1.89v0.94h-1.89zM274.36 921.81h1.89v0.94h-1.89zM277.19 921.81h0.94v0.94h-0.94zM279.08 921.81h0.94v0.94h-0.94zM281.91 921.81h1.89v0.94h-1.89zM284.74 921.81h4.72v0.94h-4.72zM292.28 921.81h2.83v0.94h-2.83zM296.06 921.81h0.94v0.94h-0.94zM247.00 922.76h6.60v0.94h-6.60zM254.55 922.76h2.83v0.94h-2.83zM259.26 922.76h3.77v0.94h-3.77zM264.92 922.76h0.94v0.94h-0.94zM269.64 922.76h0.94v0.94h-0.94zM272.47 922.76h1.89v0.94h-1.89zM275.30 922.76h0.94v0.94h-0.94zM280.02 922.76h0.94v0.94h-0.94zM281.91 922.76h2.83v0.94h-2.83zM285.68 922.76h3.77v0.94h-3.77zM290.40 922.76h0.94v0.94h-0.94zM292.28 922.76h0.94v0.94h-0.94zM296.06 922.76h0.94v0.94h-0.94z"/>
  <path d="M331.00 873.70h6.60v0.94h-6.60zM341.38 873.70h2.83v0.94h-2.83zM347.98 873.70h6.60v0.94h-6.60zM357.42 873.70h3.77v0.94h-3.77zM364.02 873.70h0.94v0.94h-0.94zM370.62 873.70h0.94v0.94h-0.94zM374.40 873.70h6.60v0.94h-6.60zM331.00 874.64h0.94v0.94h-0.94zM336.66 874.64h0.94v0.94h-0.94zM338.55 874.64h2.83v0.94h-2.83zM342.32 874.64h0.94v0.94h-0.94zM344.21 874.64h0.94v0.94h-0.94zM346.09 874.64h0.94v0.94h-0.94zM352.70 874.64h1.89v0.94h-1.89zM357.42 874.64h0.94v0.94h-0.94zM361.19 874.64h0.94v0.94h-0.94zM363.08 874.64h0.94v0.94h-0.94zM364.96 874.64h1.89v0.94h-1.89zM367.79 874.64h0.94v0.94h-0.94zM370.62 874.64h1.89v0.94h-1.89zM374.40 874.64h0.94v0.94h-0.94zM380.06 874.64h0.94v0.94h-0.94zM331.00 875.59h0.94v0.94h-0.94zM332.89 875.59h2.83v0.94h-2.83zM336.66 875.59h0.94v0.94h-0.94zM338.55 875.59h1.89v0.94h-1.89zM341.38 875.59h2.83v0.94h-2.83zM346.09 875.59h3.77v0.94h-3.77zM355.53 875.59h1.89v0.94h-1.89zM358.36 875.59h2.83v0.94h-2.83zM362.13 875.59h0.94v0.94h-0.94zM364.02 875.59h0.94v0.94h-0.94zM365.91 875.59h0.94v0.94h-0.94zM367.79 875.59h0.94v0.94h-0.94zM369.68 875.59h1.89v0.94h-1.89zM372.51 875.59h0.94v0.94h-0.94zM374.40 875.59h0.94v0.94h-0.94zM376.28 875.59h2.83v0.94h-2.83zM380.06 875.59h0.94v0.94h-0.94zM331.00 876.53h0.94v0.94h-0.94zM332.89 876.53h2.83v0.94h-2.83zM336.66 876.53h0.94v0.94h-0.94zM338.55 876.53h1.89v0.94h-1.89zM341.38 876.53h3.77v0.94h-3.77zM346.09 876.53h4.72v0.94h-4.72zM351.75 876.53h1.89v0.94h-1.89zM354.58 876.53h0.94v0.94h-0.94zM358.36 876.53h0.94v0.94h-0.94zM361.19 876.53h1.89v0.94h-1.89zM364.02 876.53h1.89v0.94h-1.89zM366.85 876.53h0.94v0.94h-0.94zM370.62 876.53h0.94v0.94h-0.94zM372.51 876.53h0.94v0.94h-0.94zM374.40 876.53h0.94v0.94h-0.94zM376.28 876.53h2.83v0.94h-2.83zM380.06 876.53h0.94v0.94h-0.94zM331.00 877.47h0.94v0.94h-0.94zM332.89 877.47h2.83v0.94h-2.83zM336.66 877.47h0.94v0.94h-0.94zM338.55 877.47h0.94v0.94h-0.94zM340.43 877.47h0.94v0.94h-0.94zM342.32 877.47h1.89v0.94h-1.89zM345.15 877.47h3.77v0.94h-3.77zM352.70 877.47h0.94v0.94h-0.94zM356.47 877.47h2.83v0.94h-2.83zM360.25 877.47h0.94v0.94h-0.94zM362.13 877.47h0.94v0.94h-0.94zM366.85 877.47h4.72v0.94h-4.72zM374.40 877.47h0.94v0.94h-0.94zM376.28 877.47h2.83v0.94h-2.83zM380.06 877.47h0.94v0.94h-0.94zM331.00 878.42h0.94v0.94h-0.94zM336.66 878.42h0.94v0.94h-0.94zM339.49 878.42h0.94v0.94h-0.94zM341.38 878.42h0.94v0.94h-0.94zM345.15 878.42h0.94v0.94h-0.94zM347.98 878.42h0.94v0.94h-0.94zM349.87 878.42h0.94v0.94h-0.94zM351.75 878.42h0.94v0.94h-0.94zM355.53 878.42h2.83v0.94h-2.83zM360.25 878.42h0.94v0.94h-0.94zM362.13 878.42h1.89v0.94h-1.89zM366.85 878.42h0.94v0.94h-0.94zM368.74 878.42h0.94v0.94h-0.94zM374.40 878.42h0.94v0.94h-0.94zM380.06 878.42h0.94v0.94h-0.94zM331.00 879.36h6.60v0.94h-6.60zM338.55 879.36h0.94v0.94h-0.94zM340.43 879.36h0.94v0.94h-0.94zM342.32 879.36h0.94v0.94h-0.94zM344.21 879.36h0.94v0.94h-0.94zM346.09 879.36h0.94v0.94h-0.94zM347.98 879.36h0.94v0.94h-0.94zM349.87 879.36h0.94v0.94h-0.94zM351.75 879.36h0.94v0.94h-0.94zM353.64 879.36h0.94v0.94h-0.94zM355.53 879.36h0.94v0.94h-0.94zM357.42 879.36h0.94v0.94h-0.94zM359.30 879.36h0.94v0.94h-0.94zM361.19 879.36h0.94v0.94h-0.94zM363.08 879.36h0.94v0.94h-0.94zM364.96 879.36h0.94v0.94h-0.94zM366.85 879.36h0.94v0.94h-0.94zM368.74 879.36h0.94v0.94h-0.94zM370.62 879.36h0.94v0.94h-0.94zM372.51 879.36h0.94v0.94h-0.94zM374.40 879.36h6.60v0.94h-6.60zM339.49 880.30h0.94v0.94h-0.94zM342.32 880.30h0.94v0.94h-0.94zM344.21 880.30h0.94v0.94h-0.94zM347.98 880.30h0.94v0.94h-0.94zM349.87 880.30h0.94v0.94h-0.94zM351.75 880.30h0.94v0.94h-0.94zM356.47 880.30h4.72v0.94h-4.72zM362.13 880.30h0.94v0.94h-0.94zM364.02 880.30h7.55v0.94h-7.55zM331.00 881.25h1.89v0.94h-1.89zM333.83 881.25h0.94v0.94h-0.94zM336.66 881.25h0.94v0.94h-0.94zM338.55 881.25h0.94v0.94h-0.94zM349.87 881.25h0.94v0.94h-0.94zM352.70 881.25h2.83v0.94h-2.83zM356.47 881.25h1.89v0.94h-1.89zM359.30 881.25h0.94v0.94h-0.94zM361.19 881.25h3.77v0.94h-3.77zM367.79 881.25h0.94v0.94h-0.94zM369.68 881.25h0.94v0.94h-0.94zM371.57 881.25h1.89v0.94h-1.89zM374.40 881.25h1.89v0.94h-1.89zM377.23 881.25h3.77v0.94h-3.77zM331.00 882.19h4.72v0.94h-4.72zM337.60 882.19h0.94v0.94h-0.94zM339.49 882.19h1.89v0.94h-1.89zM342.32 882.19h0.94v0.94h-0.94zM344.21 882.19h0.94v0.94h-0.94zM347.04 882.19h0.94v0.94h-0.94zM349.87 882.19h0.94v0.94h-0.94zM351.75 882.19h1.89v0.94h-1.89zM354.58 882.19h0.94v0.94h-0.94zM362.13 882.19h1.89v0.94h-1.89zM364.96 882.19h1.89v0.94h-1.89zM367.79 882.19h0.94v0.94h-0.94zM371.57 882.19h1.89v0.94h-1.89zM374.40 882.19h4.72v0.94h-4.72zM380.06 882.19h0.94v0.94h-0.94zM332.89 883.13h0.94v0.94h-0.94zM334.77 883.13h3.77v0.94h-3.77zM339.49 883.13h1.89v0.94h-1.89zM346.09 883.13h8.49v0.94h-8.49zM360.25 883.13h1.89v0.94h-1.89zM364.02 883.13h5.66v0.94h-5.66zM372.51 883.13h1.89v0.94h-1.89zM376.28 883.13h0.94v0.94h-0.94zM380.06 883.13h0.94v0.94h-0.94zM331.94 884.08h1.89v0.94h-1.89zM338.55 884.08h1.89v0.94h-1.89zM344.21 884.08h2.83v0.94h-2.83zM348.92 884.08h0.94v0.94h-0.94zM352.70 884.08h2.83v0.94h-2.83zM357.42 884.08h0.94v0.94h-0.94zM360.25 884.08h1.89v0.94h-1.89zM363.08 884.08h0.94v0.94h-0.94zM364.96 884.08h0.94v0.94h-0.94zM366.85 884.08h0.94v0.94h-0.94zM368.74 884.08h1.89v0.94h-1.89zM371.57 884.08h0.94v0.94h-0.94zM374.40 884.08h0.94v0.94h-0.94zM378.17 884.08h2.83v0.94h-2.83zM331.00 885.02h8.49v0.94h-8.49zM341.38 885.02h0.94v0.94h-0.94zM346.09 885.02h1.89v0.94h-1.89zM348.92 885.02h1.89v0.94h-1.89zM351.75 885.02h3.77v0.94h-3.77zM356.47 885.02h2.83v0.94h-2.83zM360.25 885.02h0.94v0.94h-0.94zM362.13 885.02h1.89v0.94h-1.89zM364.96 885.02h1.89v0.94h-1.89zM369.68 885.02h0.94v0.94h-0.94zM372.51 885.02h1.89v0.94h-1.89zM376.28 885.02h0.94v0.94h-0.94zM331.94 885.96h2.83v0.94h-2.83zM335.72 885.96h0.94v0.94h-0.94zM337.60 885.96h1.89v0.94h-1.89zM340.43 885.96h4.72v0.94h-4.72zM347.04 885.96h0.94v0.94h-0.94zM349.87 885.96h0.94v0.94h-0.94zM351.75 885.96h0.94v0.94h-0.94zM353.64 885.96h0.94v0.94h-0.94zM360.25 885.96h5.66v0.94h-5.66zM369.68 885.96h0.94v0.94h-0.94zM371.57 885.96h0.94v0.94h-0.94zM373.45 885.96h2.83v0.94h-2.83zM377.23 885.96h0.94v0.94h-0.94zM379.11 885.96h1.89v0.94h-1.89zM332.89 886.91h0.94v0.94h-0.94zM334.77 886.91h0.94v0.94h-0.94zM336.66 886.91h0.94v0.94h-0.94zM341.38 886.91h1.89v0.94h-1.89zM344.21 886.91h0.94v0.94h-0.94zM348.92 886.91h0.94v0.94h-0.94zM351.75 886.91h1.89v0.94h-1.89zM354.58 886.91h1.89v0.94h-1.89zM360.25 886.91h0.94v0.94h-0.94zM362.13 886.91h1.89v0.94h-1.89zM365.91 886.91h0.94v0.94h-0.94zM367.79 886.91h0.94v0.94h-0.94zM369.68 886.91h4.72v0.94h-4.72zM375.34 886.91h0.94v0.94h-0.94zM377.23 886.91h0.94v0.94h-0.94zM380.06 886.91h0.94v0.94h-0.94zM331.94 887.85h3.77v0.94h-3.77zM338.55 887.85h1.89v0.94h-1.89zM343.26 887.85h0.94v0.94h-0.94zM345.15 887.85h2.83v0.94h-2.83zM351.75 887.85h5.66v0.94h-5.66zM361.19 887.85h1.89v0.94h-1.89zM367.79 887.85h0.94v0.94h-0.94zM369.68 887.85h0.94v0.94h-0.94zM371.57 887.85h0.94v0.94h-0.94zM375.34 887.85h0.94v0.94h-0.94zM378.17 887.85h0.94v0.94h-0.94zM333.83 888.79h0.94v0.94h-0.94zM336.66 888.79h0.94v0.94h-0.94zM339.49 888.79h0.94v0.94h-0.94zM343.26 888.79h0.94v0.94h-0.94zM345.15 888.79h1.89v0.94h-1.89zM348.92 888.79h1.89v0.94h-1.89zM352.70 888.79h0.94v0.94h-0.94zM355.53 888.79h0.94v0.94h-0.94zM361.19 888.79h3.77v0.94h-3.77zM365.91 888.79h0.94v0.94h-0.94zM368.74 888.79h0.94v0.94h-0.94zM370.62 888.79h1.89v0.94h-1.89zM373.45 888.79h0.94v0.94h-0.94zM375.34 888.79h4.72v0.94h-4.72zM331.00 889.74h2.83v0.94h-2.83zM338.55 889.74h0.94v0.94h-0.94zM340.43 889.74h1.89v0.94h-1.89zM345.15 889.74h1.89v0.94h-1.89zM348.92 889.74h0.94v0.94h-0.94zM351.75 889.74h1.89v0.94h-1.89zM355.53 889.74h0.94v0.94h-0.94zM357.42 889.74h0.94v0.94h-0.94zM361.19 889.74h5.66v0.94h-5.66zM371.57 889.74h1.89v0.94h-1.89zM374.40 889.74h1.89v0.94h-1.89zM377.23 889.74h2.83v0.94h-2.83zM331.00 890.68h0.94v0.94h-0.94zM332.89 890.68h0.94v0.94h-0.94zM334.77 890.68h3.77v0.94h-3.77zM340.43 890.68h0.94v0.94h-0.94zM342.32 890.68h3.77v0.94h-3.77zM348.92 890.68h1.89v0.94h-1.89zM351.75 890.68h2.83v0.94h-2.83zM355.53 890.68h3.77v0.94h-3.77zM360.25 890.68h1.89v0.94h-1.89zM366.85 890.68h0.94v0.94h-0.94zM368.74 890.68h2.83v0.94h-2.83zM377.23 890.68h0.94v0.94h-0.94zM380.06 890.68h0.94v0.94h-0.94zM331.94 891.62h1.89v0.94h-1.89zM337.60 891.62h0.94v0.94h-0.94zM341.38 891.62h2.83v0.94h-2.83zM346.09 891.62h0.94v0.94h-0.94zM348.92 891.62h0.94v0.94h-0.94zM350.81 891.62h1.89v0.94h-1.89zM355.53 891.62h0.94v0.94h-0.94zM359.30 891.62h5.66v0.94h-5.66zM366.85 891.62h0.94v0.94h-0.94zM369.68 891.62h1.89v0.94h-1.89zM373.45 891.62h0.94v0.94h-0.94zM375.34 891.62h1.89v0.94h-1.89zM378.17 891.62h1.89v0.94h-1.89zM331.94 892.57h0.94v0.94h-0.94zM334.77 892.57h0.94v0.94h-0.94zM336.66 892.57h0.94v0.94h-0.94zM339.49 892.57h0.94v0.94h-0.94zM341.38 892.57h6.60v0.94h-6.60zM349.87 892.57h0.94v0.94h-0.94zM351.75 892.57h2.83v0.94h-2.83zM357.42 892.57h6.60v0.94h-6.60zM365.91 892.57h1.89v0.94h-1.89zM368.74 892.57h6.60v0.94h-6.60zM377.23 892.57h2.83v0.94h-2.83zM332.89 893.51h0.94v0.94h-0.94zM334.77 893.51h0.94v0.94h-0.94zM338.55 893.51h2.83v0.94h-2.83zM343.26 893.51h1.89v0.94h-1.89zM347.04 893.51h0.94v0.94h-0.94zM348.92 893.51h1.89v0.94h-1.89zM353.64 893.51h0.94v0.94h-0.94zM358.36 893.51h1.89v0.94h-1.89zM361.19 893.51h0.94v0.94h-0.94zM364.96 893.51h0.94v0.94h-0.94zM366.85 893.51h0.94v0.94h-0.94zM370.62 893.51h0.94v0.94h-0.94zM379.11 893.51h1.89v0.94h-1.89zM331.00 894.45h1.89v0.94h-1.89zM333.83 894.45h0.94v0.94h-0.94zM335.72 894.45h4.72v0.94h-4.72zM342.32 894.45h3.77v0.94h-3.77zM347.04 894.45h0.94v0.94h-0.94zM349.87 894.45h6.60v0.94h-6.60zM357.42 894.45h0.94v0.94h-0.94zM359.30 894.45h0.94v0.94h-0.94zM361.19 894.45h0.94v0.94h-0.94zM364.96 894.45h1.89v0.94h-1.89zM369.68 894.45h7.55v0.94h-7.55zM331.00 895.40h3.77v0.94h-3.77zM337.60 895.40h0.94v0.94h-0.94zM341.38 895.40h1.89v0.94h-1.89zM347.04 895.40h5.66v0.94h-5.66zM355.53 895.40h0.94v0.94h-0.94zM359.30 895.40h0.94v0.94h-0.94zM362.13 895.40h1.89v0.94h-1.89zM364.96 895.40h6.60v0.94h-6.60zM374.40 895.40h0.94v0.94h-0.94zM378.17 895.40h2.83v0.94h-2.83zM331.00 896.34h0.94v0.94h-0.94zM333.83 896.34h0.94v0.94h-0.94zM336.66 896.34h1.89v0.94h-1.89zM339.49 896.34h0.94v0.94h-0.94zM342.32 896.34h0.94v0.94h-0.94zM344.21 896.34h1.89v0.94h-1.89zM347.04 896.34h3.77v0.94h-3.77zM351.75 896.34h0.94v0.94h-0.94zM353.64 896.34h0.94v0.94h-0.94zM355.53 896.34h0.94v0.94h-0.94zM357.42 896.34h2.83v0.94h-2.83zM361.19 896.34h2.83v0.94h-2.83zM366.85 896.34h0.94v0.94h-0.94zM368.74 896.34h2.83v0.94h-2.83zM372.51 896.34h0.94v0.94h-0.94zM374.40 896.34h0.94v0.94h-0.94zM377.23 896.34h0.94v0.94h-0.94zM331.00 897.28h0.94v0.94h-0.94zM334.77 897.28h0.94v0.94h-0.94zM338.55 897.28h0.94v0.94h-0.94zM340.43 897.28h0.94v0.94h-0.94zM342.32 897.28h2.83v0.94h-2.83zM347.04 897.28h0.94v0.94h-0.94zM351.75 897.28h0.94v0.94h-0.94zM355.53 897.28h0.94v0.94h-0.94zM358.36 897.28h2.83v0.94h-2.83zM364.02 897.28h0.94v0.94h-0.94zM366.85 897.28h0.94v0.94h-0.94zM368.74 897.28h0.94v0.94h-0.94zM370.62 897.28h0.94v0.94h-0.94zM374.40 897.28h2.83v0.94h-2.83zM331.94 898.23h0.94v0.94h-0.94zM334.77 898.23h0.94v0.94h-0.94zM336.66 898.23h3.77v0.94h-3.77zM346.09 898.23h0.94v0.94h-0.94zM349.87 898.23h0.94v0.94h-0.94zM351.75 898.23h4.72v0.94h-4.72zM357.42 898.23h1.89v0.94h-1.89zM361.19 898.23h0.94v0.94h-0.94zM363.08 898.23h4.72v0.94h-4.72zM369.68 898.23h5.66v0.94h-5.66zM376.28 898.23h1.89v0.94h-1.89zM379.11 898.23h0.94v0.94h-0.94zM331.94 899.17h1.89v0.94h-1.89zM337.60 899.17h1.89v0.94h-1.89zM340.43 899.17h1.89v0.94h-1.89zM343.26 899.17h0.94v0.94h-0.94zM345.15 899.17h2.83v0.94h-2.83zM351.75 899.17h0.94v0.94h-0.94zM355.53 899.17h1.89v0.94h-1.89zM360.25 899.17h0.94v0.94h-0.94zM362.13 899.17h0.94v0.94h-0.94zM364.02 899.17h1.89v0.94h-1.89zM366.85 899.17h0.94v0.94h-0.94zM370.62 899.17h1.89v0.94h-1.89zM373.45 899.17h1.89v0.94h-1.89zM376.28 899.17h0.94v0.94h-0.94zM379.11 899.17h0.94v0.94h-0.94zM331.00 900.12h1.89v0.94h-1.89zM336.66 900.12h1.89v0.94h-1.89zM340.43 900.12h0.94v0.94h-0.94zM343.26 900.12h2.83v0.94h-2.83zM347.04 900.12h0.94v0.94h-0.94zM348.92 900.12h0.94v0.94h-0.94zM350.81 900.12h0.94v0.94h-0.94zM352.70 900.12h1.89v0.94h-1.89zM355.53 900.12h0.94v0.94h-0.94zM358.36 900.12h1.89v0.94h-1.89zM362.13 900.12h0.94v0.94h-0.94zM366.85 900.12h2.83v0.94h-2.83zM371.57 900.12h1.89v0.94h-1.89zM375.34 900.12h2.83v0.94h-2.83zM379.11 900.12h0.94v0.94h-0.94zM331.94 901.06h1.89v0.94h-1.89zM338.55 901.06h0.94v0.94h-0.94zM340.43 901.06h1.89v0.94h-1.89zM346.09 901.06h1.89v0.94h-1.89zM349.87 901.06h3.77v0.94h-3.77zM354.58 901.06h2.83v0.94h-2.83zM363.08 901.06h5.66v0.94h-5.66zM371.57 901.06h4.72v0.94h-4.72zM378.17 901.06h0.94v0.94h-0.94zM331.94 902.00h1.89v0.94h-1.89zM334.77 902.00h2.83v0.94h-2.83zM339.49 902.00h4.72v0.94h-4.72zM346.09 902.00h2.83v0.94h-2.83zM349.87 902.00h0.94v0.94h-0.94zM351.75 902.00h1.89v0.94h-1.89zM354.58 902.00h0.94v0.94h-0.94zM357.42 902.00h0.94v0.94h-0.94zM360.25 902.00h3.77v0.94h-3.77zM365.91 902.00h0.94v0.94h-0.94zM367.79 902.00h2.83v0.94h-2.83zM371.57 902.00h0.94v0.94h-0.94zM375.34 902.00h2.83v0.94h-2.83zM331.00 902.95h0.94v0.94h-0.94zM338.55 902.95h0.94v0.94h-0.94zM343.26 902.95h0.94v0.94h-0.94zM345.15 902.95h0.94v0.94h-0.94zM347.04 902.95h0.94v0.94h-0.94zM350.81 902.95h0.94v0.94h-0.94zM352.70 902.95h1.89v0.94h-1.89zM355.53 902.95h1.89v0.94h-1.89zM360.25 902.95h0.94v0.94h-0.94zM364.96 902.95h0.94v0.94h-0.94zM366.85 902.95h0.94v0.94h-0.94zM368.74 902.95h1.89v0.94h-1.89zM371.57 902.95h5.66v0.94h-5.66zM378.17 902.95h2.83v0.94h-2.83zM333.83 903.89h1.89v0.94h-1.89zM336.66 903.89h0.94v0.94h-0.94zM338.55 903.89h0.94v0.94h-0.94zM340.43 903.89h2.83v0.94h-2.83zM347.04 903.89h0.94v0.94h-0.94zM348.92 903.89h1.89v0.94h-1.89zM351.75 903.89h5.66v0.94h-5.66zM361.19 903.89h0.94v0.94h-0.94zM363.08 903.89h1.89v0.94h-1.89zM367.79 903.89h3.77v0.94h-3.77zM373.45 903.89h1.89v0.94h-1.89zM380.06 903.89h0.94v0.94h-0.94zM338.55 904.83h0.94v0.94h-0.94zM342.32 904.83h0.94v0.94h-0.94zM344.21 904.83h4.72v0.94h-4.72zM349.87 904.83h1.89v0.94h-1.89zM352.70 904.83h2.83v0.94h-2.83zM356.47 904.83h3.77v0.94h-3.77zM361.19 904.83h3.77v0.94h-3.77zM367.79 904.83h1.89v0.94h-1.89zM370.62 904.83h0.94v0.94h-0.94zM373.45 904.83h0.94v0.94h-0.94zM375.34 904.83h0.94v0.94h-0.94zM377.23 904.83h0.94v0.94h-0.94zM380.06 904.83h0.94v0.94h-0.94zM331.94 905.78h2.83v0.94h-2.83zM336.66 905.78h1.89v0.94h-1.89zM339.49 905.78h1.89v0.94h-1.89zM345.15 905.78h1.89v0.94h-1.89zM347.98 905.78h3.77v0.94h-3.77zM352.70 905.78h0.94v0.94h-0.94zM355.53 905.78h2.83v0.94h-2.83zM359.30 905.78h2.83v0.94h-2.83zM363.08 905.78h0.94v0.94h-0.94zM364.96 905.78h0.94v0.94h-0.94zM366.85 905.78h0.94v0.94h-0.94zM368.74 905.78h3.77v0.94h-3.77zM374.40 905.78h0.94v0.94h-0.94zM376.28 905.78h4.72v0.94h-4.72zM331.00 906.72h2.83v0.94h-2.83zM340.43 906.72h0.94v0.94h-0.94zM342.32 906.72h1.89v0.94h-1.89zM345.15 906.72h0.94v0.94h-0.94zM347.04 906.72h1.89v0.94h-1.89zM352.70 906.72h0.94v0.94h-0.94zM355.53 906.72h0.94v0.94h-0.94zM357.42 906.72h0.94v0.94h-0.94zM359.30 906.72h2.83v0.94h-2.83zM363.08 906.72h2.83v0.94h-2.83zM366.85 906.72h0.94v0.94h-0.94zM369.68 906.72h0.94v0.94h-0.94zM371.57 906.72h4.72v0.94h-4.72zM379.11 906.72h1.89v0.94h-1.89zM333.83 907.66h0.94v0.94h-0.94zM336.66 907.66h0.94v0.94h-0.94zM339.49 907.66h5.66v0.94h-5.66zM354.58 907.66h0.94v0.94h-0.94zM356.47 907.66h0.94v0.94h-0.94zM359.30 907.66h0.94v0.94h-0.94zM361.19 907.66h0.94v0.94h-0.94zM363.08 907.66h2.83v0.94h-2.83zM369.68 907.66h0.94v0.94h-0.94zM373.45 907.66h0.94v0.94h-0.94zM375.34 907.66h3.77v0.94h-3.77zM331.00 908.61h0.94v0.94h-0.94zM332.89 908.61h0.94v0.94h-0.94zM337.60 908.61h0.94v0.94h-0.94zM339.49 908.61h0.94v0.94h-0.94zM341.38 908.61h1.89v0.94h-1.89zM345.15 908.61h1.89v0.94h-1.89zM349.87 908.61h0.94v0.94h-0.94zM351.75 908.61h1.89v0.94h-1.89zM355.53 908.61h1.89v0.94h-1.89zM358.36 908.61h0.94v0.94h-0.94zM362.13 908.61h1.89v0.94h-1.89zM367.79 908.61h1.89v0.94h-1.89zM380.06 908.61h0.94v0.94h-0.94zM331.00 909.55h2.83v0.94h-2.83zM335.72 909.55h3.77v0.94h-3.77zM341.38 909.55h0.94v0.94h-0.94zM343.26 909.55h0.94v0.94h-0.94zM345.15 909.55h0.94v0.94h-0.94zM348.92 909.55h0.94v0.94h-0.94zM351.75 909.55h0.94v0.94h-0.94zM353.64 909.55h0.94v0.94h-0.94zM358.36 909.55h0.94v0.94h-0.94zM360.25 909.55h1.89v0.94h-1.89zM364.02 909.55h4.72v0.94h-4.72zM374.40 909.55h0.94v0.94h-0.94zM378.17 909.55h1.89v0.94h-1.89zM331.94 910.49h0.94v0.94h-0.94zM334.77 910.49h0.94v0.94h-0.94zM337.60 910.49h3.77v0.94h-3.77zM342.32 910.49h0.94v0.94h-0.94zM345.15 910.49h0.94v0.94h-0.94zM347.04 910.49h2.83v0.94h-2.83zM353.64 910.49h0.94v0.94h-0.94zM356.47 910.49h1.89v0.94h-1.89zM360.25 910.49h0.94v0.94h-0.94zM362.13 910.49h0.94v0.94h-0.94zM364.02 910.49h0.94v0.94h-0.94zM365.91 910.49h0.94v0.94h-0.94zM367.79 910.49h4.72v0.94h-4.72zM375.34 910.49h0.94v0.94h-0.94zM331.00 911.44h0.94v0.94h-0.94zM334.77 911.44h0.94v0.94h-0.94zM336.66 911.44h1.89v0.94h-1.89zM341.38 911.44h4.72v0.94h-4.72zM347.98 911.44h0.94v0.94h-0.94zM351.75 911.44h0.94v0.94h-0.94zM356.47 911.44h3.77v0.94h-3.77zM365.91 911.44h0.94v0.94h-0.94zM368.74 911.44h2.83v0.94h-2.83zM372.51 911.44h2.83v0.94h-2.83zM377.23 911.44h0.94v0.94h-0.94zM379.11 911.44h1.89v0.94h-1.89zM333.83 912.38h1.89v0.94h-1.89zM337.60 912.38h0.94v0.94h-0.94zM339.49 912.38h1.89v0.94h-1.89zM342.32 912.38h1.89v0.94h-1.89zM345.15 912.38h0.94v0.94h-0.94zM347.04 912.38h0.94v0.94h-0.94zM348.92 912.38h1.89v0.94h-1.89zM352.70 912.38h0.94v0.94h-0.94zM354.58 912.38h3.77v0.94h-3.77zM359.30 912.38h1.89v0.94h-1.89zM362.13 912.38h3.77v0.94h-3.77zM366.85 912.38h0.94v0.94h-0.94zM368.74 912.38h2.83v0.94h-2.83zM372.51 912.38h0.94v0.94h-0.94zM375.34 912.38h4.72v0.94h-4.72zM331.94 913.32h5.66v0.94h-5.66zM338.55 913.32h0.94v0.94h-0.94zM343.26 913.32h0.94v0.94h-0.94zM345.15 913.32h0.94v0.94h-0.94zM349.87 913.32h0.94v0.94h-0.94zM351.75 913.32h5.66v0.94h-5.66zM358.36 913.32h2.83v0.94h-2.83zM363.08 913.32h0.94v0.94h-0.94zM365.91 913.32h1.89v0.94h-1.89zM369.68 913.32h5.66v0.94h-5.66zM376.28 913.32h0.94v0.94h-0.94zM378.17 913.32h0.94v0.94h-0.94zM335.72 914.27h0.94v0.94h-0.94zM337.60 914.27h1.89v0.94h-1.89zM340.43 914.27h2.83v0.94h-2.83zM345.15 914.27h1.89v0.94h-1.89zM348.92 914.27h3.77v0.94h-3.77zM355.53 914.27h0.94v0.94h-0.94zM357.42 914.27h0.94v0.94h-0.94zM359.30 914.27h0.94v0.94h-0.94zM366.85 914.27h0.94v0.94h-0.94zM369.68 914.27h1.89v0.94h-1.89zM374.40 914.27h1.89v0.94h-1.89zM377.23 914.27h3.77v0.94h-3.77zM331.00 915.21h0.94v0.94h-0.94zM334.77 915.21h0.94v0.94h-0.94zM336.66 915.21h1.89v0.94h-1.89zM339.49 915.21h1.89v0.94h-1.89zM344.21 915.21h0.94v0.94h-0.94zM346.09 915.21h0.94v0.94h-0.94zM348.92 915.21h0.94v0.94h-0.94zM350.81 915.21h1.89v0.94h-1.89zM353.64 915.21h0.94v0.94h-0.94zM355.53 915.21h0.94v0.94h-0.94zM357.42 915.21h0.94v0.94h-0.94zM359.30 915.21h0.94v0.94h-0.94zM361.19 915.21h0.94v0.94h-0.94zM367.79 915.21h0.94v0.94h-0.94zM370.62 915.21h0.94v0.94h-0.94zM372.51 915.21h0.94v0.94h-0.94zM374.40 915.21h1.89v0.94h-1.89zM378.17 915.21h1.89v0.94h-1.89zM338.55 916.15h2.83v0.94h-2.83zM342.32 916.15h1.89v0.94h-1.89zM349.87 916.15h0.94v0.94h-0.94zM351.75 916.15h0.94v0.94h-0.94zM355.53 916.15h0.94v0.94h-0.94zM357.42 916.15h0.94v0.94h-0.94zM359.30 916.15h0.94v0.94h-0.94zM366.85 916.15h1.89v0.94h-1.89zM370.62 916.15h0.94v0.94h-0.94zM374.40 916.15h0.94v0.94h-0.94zM377.23 916.15h2.83v0.94h-2.83zM331.00 917.10h6.60v0.94h-6.60zM339.49 917.10h0.94v0.94h-0.94zM341.38 917.10h0.94v0.94h-0.94zM343.26 917.10h0.94v0.94h-0.94zM347.04 917.10h2.83v0.94h-2.83zM350.81 917.10h5.66v0.94h-5.66zM359.30 917.10h2.83v0.94h-2.83zM363.08 917.10h0.94v0.94h-0.94zM364.96 917.10h2.83v0.94h-2.83zM368.74 917.10h9.43v0.94h-9.43zM379.11 917.10h1.89v0.94h-1.89zM331.00 918.04h0.94v0.94h-0.94zM336.66 918.04h0.94v0.94h-0.94zM339.49 918.04h2.83v0.94h-2.83zM345.15 918.04h0.94v0.94h-0.94zM347.04 918.04h3.77v0.94h-3.77zM352.70 918.04h0.94v0.94h-0.94zM354.58 918.04h1.89v0.94h-1.89zM357.42 918.04h1.89v0.94h-1.89zM360.25 918.04h0.94v0.94h-0.94zM362.13 918.04h0.94v0.94h-0.94zM365.91 918.04h2.83v0.94h-2.83zM369.68 918.04h0.94v0.94h-0.94zM371.57 918.04h2.83v0.94h-2.83zM377.23 918.04h1.89v0.94h-1.89zM380.06 918.04h0.94v0.94h-0.94zM331.00 918.98h0.94v0.94h-0.94zM332.89 918.98h2.83v0.94h-2.83zM336.66 918.98h0.94v0.94h-0.94zM340.43 918.98h4.72v0.94h-4.72zM346.09 918.98h0.94v0.94h-0.94zM347.98 918.98h2.83v0.94h-2.83zM351.75 918.98h1.89v0.94h-1.89zM354.58 918.98h0.94v0.94h-0.94zM359.30 918.98h2.83v0.94h-2.83zM363.08 918.98h0.94v0.94h-0.94zM366.85 918.98h0.94v0.94h-0.94zM368.74 918.98h0.94v0.94h-0.94zM371.57 918.98h0.94v0.94h-0.94zM373.45 918.98h0.94v0.94h-0.94zM376.28 918.98h0.94v0.94h-0.94zM378.17 918.98h0.94v0.94h-0.94zM380.06 918.98h0.94v0.94h-0.94zM331.00 919.93h0.94v0.94h-0.94zM332.89 919.93h2.83v0.94h-2.83zM336.66 919.93h0.94v0.94h-0.94zM338.55 919.93h1.89v0.94h-1.89zM341.38 919.93h1.89v0.94h-1.89zM346.09 919.93h0.94v0.94h-0.94zM347.98 919.93h2.83v0.94h-2.83zM351.75 919.93h3.77v0.94h-3.77zM356.47 919.93h4.72v0.94h-4.72zM363.08 919.93h0.94v0.94h-0.94zM364.96 919.93h0.94v0.94h-0.94zM366.85 919.93h1.89v0.94h-1.89zM369.68 919.93h0.94v0.94h-0.94zM371.57 919.93h2.83v0.94h-2.83zM375.34 919.93h1.89v0.94h-1.89zM379.11 919.93h0.94v0.94h-0.94zM331.00 920.87h0.94v0.94h-0.94zM332.89 920.87h2.83v0.94h-2.83zM336.66 920.87h0.94v0.94h-0.94zM338.55 920.87h1.89v0.94h-1.89zM346.09 920.87h1.89v0.94h-1.89zM351.75 920.87h1.89v0.94h-1.89zM357.42 920.87h4.72v0.94h-4.72zM363.08 920.87h2.83v0.94h-2.83zM367.79 920.87h3.77v0.94h-3.77zM372.51 920.87h3.77v0.94h-3.77zM377.23 920.87h0.94v0.94h-0.94zM380.06 920.87h0.94v0.94h-0.94zM331.00 921.81h0.94v0.94h-0.94zM336.66 921.81h0.94v0.94h-0.94zM338.55 921.81h0.94v0.94h-0.94zM341.38 921.81h1.89v0.94h-1.89zM344.21 921.81h0.94v0.94h-0.94zM346.09 921.81h7.55v0.94h-7.55zM359.30 921.81h0.94v0.94h-0.94zM365.91 921.81h0.94v0.94h-0.94zM367.79 921.81h0.94v0.94h-0.94zM369.68 921.81h1.89v0.94h-1.89zM372.51 921.81h3.77v0.94h-3.77zM377.23 921.81h0.94v0.94h-0.94zM331.00 922.76h6.60v0.94h-6.60zM338.55 922.76h1.89v0.94h-1.89zM342.32 922.76h2.83v0.94h-2.83zM346.09 922.76h1.89v0.94h-1.89zM349.87 922.76h3.77v0.94h-3.77zM354.58 922.76h2.83v0.94h-2.83zM364.02 922.76h1.89v0.94h-1.89zM366.85 922.76h0.94v0.94h-0.94zM369.68 922.76h4.72v0.94h-4.72zM375.34 922.76h4.72v0.94h-4.72z"/>
  <path d="M414.00 873.70h6.60v0.94h-6.60zM421.55 873.70h1.89v0.94h-1.89zM424.38 873.70h0.94v0.94h-0.94zM426.26 873.70h0.94v0.94h-0.94zM428.15 873.70h0.94v0.94h-0.94zM433.81 873.70h0.94v0.94h-0.94zM436.64 873.70h1.89v0.94h-1.89zM439.47 873.70h0.94v0.94h-0.94zM444.19 873.70h0.94v0.94h-0.94zM446.08 873.70h0.94v0.94h-0.94zM448.91 873.70h2.83v0.94h-2.83zM452.68 873.70h0.94v0.94h-0.94zM454.57 873.70h0.94v0.94h-0.94zM457.40 873.70h6.60v0.94h-6.60zM414.00 874.64h0.94v0.94h-0.94zM419.66 874.64h0.94v0.94h-0.94zM421.55 874.64h0.94v0.94h-0.94zM424.38 874.64h1.89v0.94h-1.89zM428.15 874.64h0.94v0.94h-0.94zM430.04 874.64h2.83v0.94h-2.83zM434.75 874.64h0.94v0.94h-0.94zM436.64 874.64h0.94v0.94h-0.94zM438.53 874.64h0.94v0.94h-0.94zM443.25 874.64h1.89v0.94h-1.89zM446.08 874.64h2.83v0.94h-2.83zM449.85 874.64h1.89v0.94h-1.89zM452.68 874.64h0.94v0.94h-0.94zM455.51 874.64h0.94v0.94h-0.94zM457.40 874.64h0.94v0.94h-0.94zM463.06 874.64h0.94v0.94h-0.94zM414.00 875.59h0.94v0.94h-0.94zM415.89 875.59h2.83v0.94h-2.83zM419.66 875.59h0.94v0.94h-0.94zM421.55 875.59h0.94v0.94h-0.94zM423.43 875.59h0.94v0.94h-0.94zM426.26 875.59h0.94v0.94h-0.94zM428.15 875.59h0.94v0.94h-0.94zM430.04 875.59h0.94v0.94h-0.94zM432.87 875.59h1.89v0.94h-1.89zM436.64 875.59h1.89v0.94h-1.89zM439.47 875.59h3.77v0.94h-3.77zM444.19 875.59h1.89v0.94h-1.89zM447.02 875.59h0.94v0.94h-0.94zM449.85 875.59h1.89v0.94h-1.89zM452.68 875.59h2.83v0.94h-2.83zM457.40 875.59h0.94v0.94h-0.94zM459.28 875.59h2.83v0.94h-2.83zM463.06 875.59h0.94v0.94h-0.94zM414.00 876.53h0.94v0.94h-0.94zM415.89 876.53h2.83v0.94h-2.83zM419.66 876.53h0.94v0.94h-0.94zM422.49 876.53h1.89v0.94h-1.89zM427.21 876.53h2.83v0.94h-2.83zM430.98 876.53h4.72v0.94h-4.72zM436.64 876.53h1.89v0.94h-1.89zM441.36 876.53h0.94v0.94h-0.94zM444.19 876.53h0.94v0.94h-0.94zM448.91 876.53h3.77v0.94h-3.77zM453.62 876.53h0.94v0.94h-0.94zM455.51 876.53h0.94v0.94h-0.94zM457.40 876.53h0.94v0.94h-0.94zM459.28 876.53h2.83v0.94h-2.83zM463.06 876.53h0.94v0.94h-0.94zM414.00 877.47h0.94v0.94h-0.94zM415.89 877.47h2.83v0.94h-2.83zM419.66 877.47h0.94v0.94h-0.94zM421.55 877.47h0.94v0.94h-0.94zM423.43 877.47h0.94v0.94h-0.94zM425.32 877.47h1.89v0.94h-1.89zM429.09 877.47h0.94v0.94h-0.94zM433.81 877.47h0.94v0.94h-0.94zM436.64 877.47h2.83v0.94h-2.83zM440.42 877.47h1.89v0.94h-1.89zM443.25 877.47h4.72v0.94h-4.72zM449.85 877.47h0.94v0.94h-0.94zM451.74 877.47h2.83v0.94h-2.83zM457.40 877.47h0.94v0.94h-0.94zM459.28 877.47h2.83v0.94h-2.83zM463.06 877.47h0.94v0.94h-0.94zM414.00 878.42h0.94v0.94h-0.94zM419.66 878.42h0.94v0.94h-0.94zM421.55 878.42h1.89v0.94h-1.89zM424.38 878.42h0.94v0.94h-0.94zM426.26 878.42h1.89v0.94h-1.89zM430.04 878.42h2.83v0.94h-2.83zM434.75 878.42h0.94v0.94h-0.94zM437.58 878.42h2.83v0.94h-2.83zM447.02 878.42h0.94v0.94h-0.94zM448.91 878.42h1.89v0.94h-1.89zM451.74 878.42h2.83v0.94h-2.83zM455.51 878.42h0.94v0.94h-0.94zM457.40 878.42h0.94v0.94h-0.94zM463.06 878.42h0.94v0.94h-0.94zM414.00 879.36h6.60v0.94h-6.60zM421.55 879.36h0.94v0.94h-0.94zM423.43 879.36h0.94v0.94h-0.94zM425.32 879.36h0.94v0.94h-0.94zM427.21 879.36h0.94v0.94h-0.94zM429.09 879.36h0.94v0.94h-0.94zM430.98 879.36h0.94v0.94h-0.94zM432.87 879.36h0.94v0.94h-0.94zM434.75 879.36h0.94v0.94h-0.94zM436.64 879.36h0.94v0.94h-0.94zM438.53 879.36h0.94v0.94h-0.94zM440.42 879.36h0.94v0.94h-0.94zM442.30 879.36h0.94v0.94h-0.94zM444.19 879.36h0.94v0.94h-0.94zM446.08 879.36h0.94v0.94h-0.94zM447.96 879.36h0.94v0.94h-0.94zM449.85 879.36h0.94v0.94h-0.94zM451.74 879.36h0.94v0.94h-0.94zM453.62 879.36h0.94v0.94h-0.94zM455.51 879.36h0.94v0.94h-0.94zM457.40 879.36h6.60v0.94h-6.60zM421.55 880.30h1.89v0.94h-1.89zM424.38 880.30h0.94v0.94h-0.94zM426.26 880.30h0.94v0.94h-0.94zM428.15 880.30h0.94v0.94h-0.94zM431.92 880.30h0.94v0.94h-0.94zM434.75 880.30h0.94v0.94h-0.94zM437.58 880.30h2.83v0.94h-2.83zM444.19 880.30h3.77v0.94h-3.77zM450.79 880.30h0.94v0.94h-0.94zM452.68 880.30h1.89v0.94h-1.89zM455.51 880.30h0.94v0.94h-0.94zM414.00 881.25h2.83v0.94h-2.83zM418.72 881.25h3.77v0.94h-3.77zM423.43 881.25h0.94v0.94h-0.94zM426.26 881.25h0.94v0.94h-0.94zM428.15 881.25h0.94v0.94h-0.94zM430.98 881.25h0.94v0.94h-0.94zM434.75 881.25h0.94v0.94h-0.94zM439.47 881.25h2.83v0.94h-2.83zM445.13 881.25h0.94v0.94h-0.94zM447.96 881.25h0.94v0.94h-0.94zM450.79 881.25h0.94v0.94h-0.94zM452.68 881.25h1.89v0.94h-1.89zM458.34 881.25h3.77v0.94h-3.77zM415.89 882.19h2.83v0.94h-2.83zM421.55 882.19h0.94v0.94h-0.94zM423.43 882.19h2.83v0.94h-2.83zM428.15 882.19h0.94v0.94h-0.94zM430.04 882.19h3.77v0.94h-3.77zM435.70 882.19h2.83v0.94h-2.83zM442.30 882.19h2.83v0.94h-2.83zM447.02 882.19h1.89v0.94h-1.89zM449.85 882.19h0.94v0.94h-0.94zM453.62 882.19h0.94v0.94h-0.94zM459.28 882.19h0.94v0.94h-0.94zM461.17 882.19h0.94v0.94h-0.94zM414.00 883.13h0.94v0.94h-0.94zM416.83 883.13h0.94v0.94h-0.94zM418.72 883.13h1.89v0.94h-1.89zM421.55 883.13h0.94v0.94h-0.94zM424.38 883.13h0.94v0.94h-0.94zM428.15 883.13h0.94v0.94h-0.94zM430.98 883.13h3.77v0.94h-3.77zM436.64 883.13h0.94v0.94h-0.94zM439.47 883.13h0.94v0.94h-0.94zM445.13 883.13h0.94v0.94h-0.94zM448.91 883.13h0.94v0.94h-0.94zM450.79 883.13h6.60v0.94h-6.60zM459.28 883.13h0.94v0.94h-0.94zM461.17 883.13h1.89v0.94h-1.89zM414.00 884.08h1.89v0.94h-1.89zM417.77 884.08h1.89v0.94h-1.89zM421.55 884.08h2.83v0.94h-2.83zM425.32 884.08h14.15v0.94h-14.15zM440.42 884.08h3.77v0.94h-3.77zM445.13 884.08h3.77v0.94h-3.77zM449.85 884.08h2.83v0.94h-2.83zM453.62 884.08h0.94v0.94h-0.94zM455.51 884.08h0.94v0.94h-0.94zM457.40 884.08h2.83v0.94h-2.83zM462.11 884.08h1.89v0.94h-1.89zM416.83 885.02h5.66v0.94h-5.66zM424.38 885.02h0.94v0.94h-0.94zM426.26 885.02h0.94v0.94h-0.94zM430.04 885.02h1.89v0.94h-1.89zM433.81 885.02h1.89v0.94h-1.89zM436.64 885.02h2.83v0.94h-2.83zM441.36 885.02h0.94v0.94h-0.94zM447.02 885.02h2.83v0.94h-2.83zM450.79 885.02h2.83v0.94h-2.83zM456.45 885.02h2.83v0.94h-2.83zM460.23 885.02h1.89v0.94h-1.89zM414.00 885.96h1.89v0.94h-1.89zM422.49 885.96h3.77v0.94h-3.77zM427.21 885.96h0.94v0.94h-0.94zM429.09 885.96h1.89v0.94h-1.89zM431.92 885.96h2.83v0.94h-2.83zM436.64 885.96h1.89v0.94h-1.89zM439.47 885.96h0.94v0.94h-0.94zM441.36 885.96h0.94v0.94h-0.94zM446.08 885.96h2.83v0.94h-2.83zM449.85 885.96h1.89v0.94h-1.89zM452.68 885.96h0.94v0.94h-0.94zM454.57 885.96h2.83v0.94h-2.83zM462.11 885.96h0.94v0.94h-0.94zM414.00 886.91h1.89v0.94h-1.89zM418.72 886.91h2.83v0.94h-2.83zM422.49 886.91h3.77v0.94h-3.77zM428.15 886.91h0.94v0.94h-0.94zM430.98 886.91h1.89v0.94h-1.89zM433.81 886.91h4.72v0.94h-4.72zM445.13 886.91h0.94v0.94h-0.94zM448.91 886.91h0.94v0.94h-0.94zM450.79 886.91h0.94v0.94h-0.94zM453.62 886.91h0.94v0.94h-0.94zM455.51 886.91h1.89v0.94h-1.89zM458.34 886.91h0.94v0.94h-0.94zM461.17 886.91h0.94v0.94h-0.94zM463.06 886.91h0.94v0.94h-0.94zM414.00 887.85h1.89v0.94h-1.89zM417.77 887.85h1.89v0.94h-1.89zM420.60 887.85h2.83v0.94h-2.83zM428.15 887.85h3.77v0.94h-3.77zM433.81 887.85h0.94v0.94h-0.94zM435.70 887.85h1.89v0.94h-1.89zM439.47 887.85h1.89v0.94h-1.89zM442.30 887.85h1.89v0.94h-1.89zM446.08 887.85h2.83v0.94h-2.83zM449.85 887.85h0.94v0.94h-0.94zM453.62 887.85h5.66v0.94h-5.66zM460.23 887.85h2.83v0.94h-2.83zM414.00 888.79h3.77v0.94h-3.77zM419.66 888.79h0.94v0.94h-0.94zM421.55 888.79h1.89v0.94h-1.89zM428.15 888.79h2.83v0.94h-2.83zM433.81 888.79h0.94v0.94h-0.94zM438.53 888.79h0.94v0.94h-0.94zM440.42 888.79h1.89v0.94h-1.89zM445.13 888.79h2.83v0.94h-2.83zM448.91 888.79h0.94v0.94h-0.94zM450.79 888.79h1.89v0.94h-1.89zM453.62 888.79h0.94v0.94h-0.94zM458.34 888.79h0.94v0.94h-0.94zM461.17 888.79h1.89v0.94h-1.89zM414.94 889.74h0.94v0.94h-0.94zM416.83 889.74h0.94v0.94h-0.94zM421.55 889.74h0.94v0.94h-0.94zM423.43 889.74h1.89v0.94h-1.89zM426.26 889.74h1.89v0.94h-1.89zM430.04 889.74h4.72v0.94h-4.72zM435.70 889.74h3.77v0.94h-3.77zM444.19 889.74h1.89v0.94h-1.89zM447.02 889.74h3.77v0.94h-3.77zM451.74 889.74h1.89v0.94h-1.89zM454.57 889.74h0.94v0.94h-0.94zM456.45 889.74h0.94v0.94h-0.94zM460.23 889.74h1.89v0.94h-1.89zM463.06 889.74h0.94v0.94h-0.94zM414.00 890.68h0.94v0.94h-0.94zM416.83 890.68h0.94v0.94h-0.94zM419.66 890.68h2.83v0.94h-2.83zM423.43 890.68h4.72v0.94h-4.72zM429.09 890.68h1.89v0.94h-1.89zM433.81 890.68h1.89v0.94h-1.89zM436.64 890.68h0.94v0.94h-0.94zM438.53 890.68h2.83v0.94h-2.83zM444.19 890.68h0.94v0.94h-0.94zM446.08 890.68h0.94v0.94h-0.94zM448.91 890.68h0.94v0.94h-0.94zM452.68 890.68h0.94v0.94h-0.94zM455.51 890.68h3.77v0.94h-3.77zM460.23 890.68h0.94v0.94h-0.94zM462.11 890.68h1.89v0.94h-1.89zM421.55 891.62h1.89v0.94h-1.89zM424.38 891.62h0.94v0.94h-0.94zM426.26 891.62h2.83v0.94h-2.83zM433.81 891.62h0.94v0.94h-0.94zM435.70 891.62h1.89v0.94h-1.89zM439.47 891.62h0.94v0.94h-0.94zM441.36 891.62h0.94v0.94h-0.94zM443.25 891.62h1.89v0.94h-1.89zM448.91 891.62h0.94v0.94h-0.94zM450.79 891.62h1.89v0.94h-1.89zM454.57 891.62h0.94v0.94h-0.94zM456.45 891.62h0.94v0.94h-0.94zM458.34 891.62h1.89v0.94h-1.89zM462.11 891.62h0.94v0.94h-0.94zM414.94 892.57h1.89v0.94h-1.89zM417.77 892.57h2.83v0.94h-2.83zM422.49 892.57h2.83v0.94h-2.83zM426.26 892.57h4.72v0.94h-4.72zM437.58 892.57h0.94v0.94h-0.94zM439.47 892.57h0.94v0.94h-0.94zM441.36 892.57h1.89v0.94h-1.89zM444.19 892.57h1.89v0.94h-1.89zM447.96 892.57h3.77v0.94h-3.77zM452.68 892.57h2.83v0.94h-2.83zM456.45 892.57h0.94v0.94h-0.94zM459.28 892.57h1.89v0.94h-1.89zM463.06 892.57h0.94v0.94h-0.94zM414.00 893.51h0.94v0.94h-0.94zM416.83 893.51h2.83v0.94h-2.83zM422.49 893.51h1.89v0.94h-1.89zM426.26 893.51h2.83v0.94h-2.83zM430.04 893.51h0.94v0.94h-0.94zM433.81 893.51h2.83v0.94h-2.83zM438.53 893.51h0.94v0.94h-0.94zM442.30 893.51h1.89v0.94h-1.89zM445.13 893.51h0.94v0.94h-0.94zM447.96 893.51h0.94v0.94h-0.94zM452.68 893.51h4.72v0.94h-4.72zM458.34 893.51h0.94v0.94h-0.94zM461.17 893.51h0.94v0.94h-0.94zM463.06 893.51h0.94v0.94h-0.94zM414.00 894.45h4.72v0.94h-4.72zM419.66 894.45h6.60v0.94h-6.60zM427.21 894.45h3.77v0.94h-3.77zM431.92 894.45h0.94v0.94h-0.94zM433.81 894.45h5.66v0.94h-5.66zM442.30 894.45h1.89v0.94h-1.89zM446.08 894.45h0.94v0.94h-0.94zM447.96 894.45h0.94v0.94h-0.94zM450.79 894.45h0.94v0.94h-0.94zM453.62 894.45h5.66v0.94h-5.66zM461.17 894.45h0.94v0.94h-0.94zM414.00 895.40h0.94v0.94h-0.94zM416.83 895.40h1.89v0.94h-1.89zM420.60 895.40h1.89v0.94h-1.89zM424.38 895.40h0.94v0.94h-0.94zM430.98 895.40h1.89v0.94h-1.89zM434.75 895.40h0.94v0.94h-0.94zM438.53 895.40h0.94v0.94h-0.94zM440.42 895.40h1.89v0.94h-1.89zM443.25 895.40h0.94v0.94h-0.94zM445.13 895.40h3.77v0.94h-3.77zM449.85 895.40h4.72v0.94h-4.72zM457.40 895.40h0.94v0.94h-0.94zM460.23 895.40h3.77v0.94h-3.77zM414.94 896.34h0.94v0.94h-0.94zM416.83 896.34h4.72v0.94h-4.72zM423.43 896.34h1.89v0.94h-1.89zM429.09 896.34h0.94v0.94h-0.94zM431.92 896.34h1.89v0.94h-1.89zM434.75 896.34h0.94v0.94h-0.94zM436.64 896.34h0.94v0.94h-0.94zM438.53 896.34h0.94v0.94h-0.94zM440.42 896.34h0.94v0.94h-0.94zM445.13 896.34h0.94v0.94h-0.94zM447.02 896.34h0.94v0.94h-0.94zM449.85 896.34h2.83v0.94h-2.83zM453.62 896.34h0.94v0.94h-0.94zM455.51 896.34h0.94v0.94h-0.94zM457.40 896.34h0.94v0.94h-0.94zM459.28 896.34h1.89v0.94h-1.89zM414.00 897.28h1.89v0.94h-1.89zM417.77 897.28h0.94v0.94h-0.94zM423.43 897.28h1.89v0.94h-1.89zM427.21 897.28h2.83v0.94h-2.83zM430.98 897.28h1.89v0.94h-1.89zM434.75 897.28h0.94v0.94h-0.94zM438.53 897.28h2.83v0.94h-2.83zM442.30 897.28h0.94v0.94h-0.94zM444.19 897.28h0.94v0.94h-0.94zM446.08 897.28h0.94v0.94h-0.94zM447.96 897.28h0.94v0.94h-0.94zM449.85 897.28h2.83v0.94h-2.83zM453.62 897.28h0.94v0.94h-0.94zM457.40 897.28h0.94v0.94h-0.94zM461.17 897.28h2.83v0.94h-2.83zM414.00 898.23h1.89v0.94h-1.89zM416.83 898.23h0.94v0.94h-0.94zM419.66 898.23h0.94v0.94h-0.94zM422.49 898.23h2.83v0.94h-2.83zM427.21 898.23h0.94v0.94h-0.94zM430.98 898.23h1.89v0.94h-1.89zM433.81 898.23h6.60v0.94h-6.60zM441.36 898.23h3.77v0.94h-3.77zM447.96 898.23h0.94v0.94h-0.94zM449.85 898.23h8.49v0.94h-8.49zM459.28 898.23h1.89v0.94h-1.89zM415.89 899.17h0.94v0.94h-0.94zM420.60 899.17h0.94v0.94h-0.94zM423.43 899.17h0.94v0.94h-0.94zM426.26 899.17h1.89v0.94h-1.89zM429.09 899.17h1.89v0.94h-1.89zM431.92 899.17h3.77v0.94h-3.77zM438.53 899.17h4.72v0.94h-4.72zM445.13 899.17h3.77v0.94h-3.77zM449.85 899.17h0.94v0.94h-0.94zM452.68 899.17h2.83v0.94h-2.83zM457.40 899.17h0.94v0.94h-0.94zM459.28 899.17h3.77v0.94h-3.77zM415.89 900.12h0.94v0.94h-0.94zM417.77 900.12h5.66v0.94h-5.66zM426.26 900.12h0.94v0.94h-0.94zM430.98 900.12h0.94v0.94h-0.94zM433.81 900.12h0.94v0.94h-0.94zM436.64 900.12h0.94v0.94h-0.94zM439.47 900.12h2.83v0.94h-2.83zM443.25 900.12h2.83v0.94h-2.83zM447.02 900.12h1.89v0.94h-1.89zM449.85 900.12h1.89v0.94h-1.89zM452.68 900.12h1.89v0.94h-1.89zM455.51 900.12h1.89v0.94h-1.89zM458.34 900.12h0.94v0.94h-0.94zM460.23 900.12h2.83v0.94h-2.83zM414.94 901.06h0.94v0.94h-0.94zM416.83 901.06h0.94v0.94h-0.94zM421.55 901.06h3.77v0.94h-3.77zM429.09 901.06h2.83v0.94h-2.83zM432.87 901.06h1.89v0.94h-1.89zM435.70 901.06h0.94v0.94h-0.94zM437.58 901.06h0.94v0.94h-0.94zM439.47 901.06h0.94v0.94h-0.94zM441.36 901.06h1.89v0.94h-1.89zM445.13 901.06h1.89v0.94h-1.89zM447.96 901.06h0.94v0.94h-0.94zM449.85 901.06h4.72v0.94h-4.72zM455.51 901.06h3.77v0.94h-3.77zM460.23 901.06h0.94v0.94h-0.94zM462.11 901.06h1.89v0.94h-1.89zM414.00 902.00h0.94v0.94h-0.94zM415.89 902.00h1.89v0.94h-1.89zM419.66 902.00h3.77v0.94h-3.77zM424.38 902.00h3.77v0.94h-3.77zM429.09 902.00h0.94v0.94h-0.94zM430.98 902.00h0.94v0.94h-0.94zM432.87 902.00h0.94v0.94h-0.94zM434.75 902.00h1.89v0.94h-1.89zM441.36 902.00h2.83v0.94h-2.83zM445.13 902.00h0.94v0.94h-0.94zM451.74 902.00h0.94v0.94h-0.94zM453.62 902.00h1.89v0.94h-1.89zM456.45 902.00h0.94v0.94h-0.94zM458.34 902.00h1.89v0.94h-1.89zM461.17 902.00h0.94v0.94h-0.94zM414.00 902.95h0.94v0.94h-0.94zM420.60 902.95h0.94v0.94h-0.94zM423.43 902.95h0.94v0.94h-0.94zM425.32 902.95h0.94v0.94h-0.94zM427.21 902.95h0.94v0.94h-0.94zM430.04 902.95h0.94v0.94h-0.94zM433.81 902.95h2.83v0.94h-2.83zM437.58 902.95h1.89v0.94h-1.89zM441.36 902.95h1.89v0.94h-1.89zM445.13 902.95h1.89v0.94h-1.89zM449.85 902.95h0.94v0.94h-0.94zM451.74 902.95h3.77v0.94h-3.77zM456.45 902.95h0.94v0.94h-0.94zM459.28 902.95h0.94v0.94h-0.94zM463.06 902.95h0.94v0.94h-0.94zM414.94 903.89h0.94v0.94h-0.94zM416.83 903.89h0.94v0.94h-0.94zM418.72 903.89h4.72v0.94h-4.72zM424.38 903.89h2.83v0.94h-2.83zM429.09 903.89h2.83v0.94h-2.83zM432.87 903.89h0.94v0.94h-0.94zM434.75 903.89h0.94v0.94h-0.94zM438.53 903.89h3.77v0.94h-3.77zM443.25 903.89h1.89v0.94h-1.89zM447.02 903.89h0.94v0.94h-0.94zM449.85 903.89h1.89v0.94h-1.89zM452.68 903.89h0.94v0.94h-0.94zM454.57 903.89h4.72v0.94h-4.72zM461.17 903.89h0.94v0.94h-0.94zM414.00 904.83h0.94v0.94h-0.94zM415.89 904.83h0.94v0.94h-0.94zM417.77 904.83h1.89v0.94h-1.89zM423.43 904.83h1.89v0.94h-1.89zM426.26 904.83h0.94v0.94h-0.94zM432.87 904.83h3.77v0.94h-3.77zM437.58 904.83h0.94v0.94h-0.94zM439.47 904.83h0.94v0.94h-0.94zM444.19 904.83h3.77v0.94h-3.77zM452.68 904.83h0.94v0.94h-0.94zM456.45 904.83h1.89v0.94h-1.89zM459.28 904.83h0.94v0.94h-0.94zM461.17 904.83h0.94v0.94h-0.94zM463.06 904.83h0.94v0.94h-0.94zM414.00 905.78h0.94v0.94h-0.94zM415.89 905.78h0.94v0.94h-0.94zM419.66 905.78h0.94v0.94h-0.94zM421.55 905.78h0.94v0.94h-0.94zM426.26 905.78h1.89v0.94h-1.89zM429.09 905.78h0.94v0.94h-0.94zM432.87 905.78h1.89v0.94h-1.89zM436.64 905.78h0.94v0.94h-0.94zM438.53 905.78h0.94v0.94h-0.94zM441.36 905.78h0.94v0.94h-0.94zM445.13 905.78h1.89v0.94h-1.89zM449.85 905.78h0.94v0.94h-0.94zM452.68 905.78h0.94v0.94h-0.94zM454.57 905.78h0.94v0.94h-0.94zM458.34 905.78h0.94v0.94h-0.94zM414.00 906.72h0.94v0.94h-0.94zM417.77 906.72h0.94v0.94h-0.94zM421.55 906.72h0.94v0.94h-0.94zM424.38 906.72h0.94v0.94h-0.94zM426.26 906.72h0.94v0.94h-0.94zM428.15 906.72h0.94v0.94h-0.94zM431.92 906.72h0.94v0.94h-0.94zM433.81 906.72h0.94v0.94h-0.94zM435.70 906.72h2.83v0.94h-2.83zM440.42 906.72h0.94v0.94h-0.94zM442.30 906.72h0.94v0.94h-0.94zM444.19 906.72h1.89v0.94h-1.89zM447.02 906.72h1.89v0.94h-1.89zM449.85 906.72h0.94v0.94h-0.94zM453.62 906.72h0.94v0.94h-0.94zM458.34 906.72h1.89v0.94h-1.89zM462.11 906.72h1.89v0.94h-1.89zM414.00 907.66h0.94v0.94h-0.94zM415.89 907.66h1.89v0.94h-1.89zM418.72 907.66h2.83v0.94h-2.83zM423.43 907.66h0.94v0.94h-0.94zM425.32 907.66h2.83v0.94h-2.83zM430.04 907.66h0.94v0.94h-0.94zM431.92 907.66h3.77v0.94h-3.77zM437.58 907.66h1.89v0.94h-1.89zM440.42 907.66h0.94v0.94h-0.94zM442.30 907.66h0.94v0.94h-0.94zM446.08 907.66h2.83v0.94h-2.83zM449.85 907.66h1.89v0.94h-1.89zM459.28 907.66h4.72v0.94h-4.72zM414.00 908.61h0.94v0.94h-0.94zM418.72 908.61h0.94v0.94h-0.94zM421.55 908.61h1.89v0.94h-1.89zM426.26 908.61h0.94v0.94h-0.94zM428.15 908.61h2.83v0.94h-2.83zM431.92 908.61h0.94v0.94h-0.94zM433.81 908.61h0.94v0.94h-0.94zM435.70 908.61h0.94v0.94h-0.94zM439.47 908.61h0.94v0.94h-0.94zM441.36 908.61h0.94v0.94h-0.94zM443.25 908.61h0.94v0.94h-0.94zM446.08 908.61h0.94v0.94h-0.94zM447.96 908.61h4.72v0.94h-4.72zM458.34 908.61h2.83v0.94h-2.83zM462.11 908.61h0.94v0.94h-0.94zM414.00 909.55h0.94v0.94h-0.94zM417.77 909.55h3.77v0.94h-3.77zM423.43 909.55h0.94v0.94h-0.94zM430.04 909.55h0.94v0.94h-0.94zM432.87 909.55h0.94v0.94h-0.94zM437.58 909.55h0.94v0.94h-0.94zM441.36 909.55h1.89v0.94h-1.89zM444.19 909.55h0.94v0.94h-0.94zM447.02 909.55h1.89v0.94h-1.89zM452.68 909.55h0.94v0.94h-0.94zM457.40 909.55h0.94v0.94h-0.94zM460.23 909.55h3.77v0.94h-3.77zM416.83 910.49h2.83v0.94h-2.83zM421.55 910.49h0.94v0.94h-0.94zM424.38 910.49h0.94v0.94h-0.94zM426.26 910.49h0.94v0.94h-0.94zM428.15 910.49h2.83v0.94h-2.83zM432.87 910.49h0.94v0.94h-0.94zM435.70 910.49h1.89v0.94h-1.89zM438.53 910.49h2.83v0.94h-2.83zM442.30 910.49h1.89v0.94h-1.89zM445.13 910.49h0.94v0.94h-0.94zM450.79 910.49h0.94v0.94h-0.94zM454.57 910.49h0.94v0.94h-0.94zM456.45 910.49h0.94v0.94h-0.94zM459.28 910.49h1.89v0.94h-1.89zM462.11 910.49h0.94v0.94h-0.94zM414.94 911.44h0.94v0.94h-0.94zM416.83 911.44h0.94v0.94h-0.94zM418.72 911.44h1.89v0.94h-1.89zM421.55 911.44h2.83v0.94h-2.83zM425.32 911.44h2.83v0.94h-2.83zM429.09 911.44h2.83v0.94h-2.83zM432.87 911.44h0.94v0.94h-0.94zM434.75 911.44h1.89v0.94h-1.89zM437.58 911.44h1.89v0.94h-1.89zM440.42 911.44h0.94v0.94h-0.94zM443.25 911.44h2.83v0.94h-2.83zM447.02 911.44h3.77v0.94h-3.77zM451.74 911.44h0.94v0.94h-0.94zM456.45 911.44h1.89v0.94h-1.89zM461.17 911.44h0.94v0.94h-0.94zM463.06 911.44h0.94v0.94h-0.94zM414.00 912.38h0.94v0.94h-0.94zM417.77 912.38h0.94v0.94h-0.94zM420.60 912.38h0.94v0.94h-0.94zM424.38 912.38h0.94v0.94h-0.94zM426.26 912.38h1.89v0.94h-1.89zM430.04 912.38h1.89v0.94h-1.89zM432.87 912.38h1.89v0.94h-1.89zM435.70 912.38h0.94v0.94h-0.94zM440.42 912.38h0.94v0.94h-0.94zM443.25 912.38h0.94v0.94h-0.94zM445.13 912.38h1.89v0.94h-1.89zM447.96 912.38h1.89v0.94h-1.89zM452.68 912.38h2.83v0.94h-2.83zM456.45 912.38h0.94v0.94h-0.94zM458.34 912.38h0.94v0.94h-0.94zM460.23 912.38h3.77v0.94h-3.77zM414.94 913.32h0.94v0.94h-0.94zM416.83 913.32h5.66v0.94h-5.66zM424.38 913.32h0.94v0.94h-0.94zM426.26 913.32h3.77v0.94h-3.77zM430.98 913.32h1.89v0.94h-1.89zM433.81 913.32h5.66v0.94h-5.66zM441.36 913.32h1.89v0.94h-1.89zM445.13 913.32h2.83v0.94h-2.83zM448.91 913.32h0.94v0.94h-0.94zM450.79 913.32h0.94v0.94h-0.94zM452.68 913.32h7.55v0.94h-7.55zM463.06 913.32h0.94v0.94h-0.94zM414.00 914.27h0.94v0.94h-0.94zM415.89 914.27h3.77v0.94h-3.77zM421.55 914.27h1.89v0.94h-1.89zM425.32 914.27h0.94v0.94h-0.94zM427.21 914.27h1.89v0.94h-1.89zM430.98 914.27h4.72v0.94h-4.72zM438.53 914.27h0.94v0.94h-0.94zM440.42 914.27h0.94v0.94h-0.94zM442.30 914.27h4.72v0.94h-4.72zM449.85 914.27h4.72v0.94h-4.72zM457.40 914.27h0.94v0.94h-0.94zM459.28 914.27h0.94v0.94h-0.94zM461.17 914.27h1.89v0.94h-1.89zM414.00 915.21h0.94v0.94h-0.94zM416.83 915.21h1.89v0.94h-1.89zM419.66 915.21h2.83v0.94h-2.83zM423.43 915.21h3.77v0.94h-3.77zM429.09 915.21h0.94v0.94h-0.94zM430.98 915.21h0.94v0.94h-0.94zM433.81 915.21h1.89v0.94h-1.89zM436.64 915.21h0.94v0.94h-0.94zM438.53 915.21h0.94v0.94h-0.94zM447.02 915.21h1.89v0.94h-1.89zM450.79 915.21h0.94v0.94h-0.94zM453.62 915.21h0.94v0.94h-0.94zM455.51 915.21h0.94v0.94h-0.94zM457.40 915.21h1.89v0.94h-1.89zM461.17 915.21h1.89v0.94h-1.89zM421.55 916.15h4.72v0.94h-4.72zM427.21 916.15h1.89v0.94h-1.89zM430.04 916.15h0.94v0.94h-0.94zM433.81 916.15h1.89v0.94h-1.89zM438.53 916.15h1.89v0.94h-1.89zM441.36 916.15h0.94v0.94h-0.94zM443.25 916.15h0.94v0.94h-0.94zM446.08 916.15h0.94v0.94h-0.94zM448.91 916.15h1.89v0.94h-1.89zM452.68 916.15h1.89v0.94h-1.89zM457.40 916.15h0.94v0.94h-0.94zM460.23 916.15h1.89v0.94h-1.89zM414.00 917.10h6.60v0.94h-6.60zM421.55 917.10h1.89v0.94h-1.89zM430.04 917.10h9.43v0.94h-9.43zM442.30 917.10h2.83v0.94h-2.83zM448.91 917.10h0.94v0.94h-0.94zM450.79 917.10h0.94v0.94h-0.94zM452.68 917.10h8.49v0.94h-8.49zM462.11 917.10h0.94v0.94h-0.94zM414.00 918.04h0.94v0.94h-0.94zM419.66 918.04h0.94v0.94h-0.94zM421.55 918.04h0.94v0.94h-0.94zM427.21 918.04h0.94v0.94h-0.94zM430.04 918.04h0.94v0.94h-0.94zM433.81 918.04h1.89v0.94h-1.89zM438.53 918.04h0.94v0.94h-0.94zM441.36 918.04h0.94v0.94h-0.94zM443.25 918.04h2.83v0.94h-2.83zM447.96 918.04h3.77v0.94h-3.77zM452.68 918.04h0.94v0.94h-0.94zM455.51 918.04h0.94v0.94h-0.94zM457.40 918.04h0.94v0.94h-0.94zM460.23 918.04h1.89v0.94h-1.89zM414.00 918.98h0.94v0.94h-0.94zM415.89 918.98h2.83v0.94h-2.83zM419.66 918.98h0.94v0.94h-0.94zM422.49 918.98h0.94v0.94h-0.94zM425.32 918.98h1.89v0.94h-1.89zM434.75 918.98h0.94v0.94h-0.94zM438.53 918.98h1.89v0.94h-1.89zM441.36 918.98h0.94v0.94h-0.94zM445.13 918.98h0.94v0.94h-0.94zM449.85 918.98h0.94v0.94h-0.94zM452.68 918.98h2.83v0.94h-2.83zM456.45 918.98h0.94v0.94h-0.94zM460.23 918.98h0.94v0.94h-0.94zM414.00 919.93h0.94v0.94h-0.94zM415.89 919.93h2.83v0.94h-2.83zM419.66 919.93h0.94v0.94h-0.94zM421.55 919.93h1.89v0.94h-1.89zM426.26 919.93h0.94v0.94h-0.94zM428.15 919.93h2.83v0.94h-2.83zM432.87 919.93h0.94v0.94h-0.94zM434.75 919.93h4.72v0.94h-4.72zM440.42 919.93h0.94v0.94h-0.94zM442.30 919.93h1.89v0.94h-1.89zM445.13 919.93h0.94v0.94h-0.94zM449.85 919.93h1.89v0.94h-1.89zM453.62 919.93h2.83v0.94h-2.83zM457.40 919.93h0.94v0.94h-0.94zM459.28 919.93h0.94v0.94h-0.94zM462.11 919.93h0.94v0.94h-0.94zM414.00 920.87h0.94v0.94h-0.94zM415.89 920.87h2.83v0.94h-2.83zM419.66 920.87h0.94v0.94h-0.94zM422.49 920.87h0.94v0.94h-0.94zM424.38 920.87h0.94v0.94h-0.94zM426.26 920.87h4.72v0.94h-4.72zM433.81 920.87h1.89v0.94h-1.89zM436.64 920.87h2.83v0.94h-2.83zM441.36 920.87h1.89v0.94h-1.89zM447.96 920.87h6.60v0.94h-6.60zM457.40 920.87h1.89v0.94h-1.89zM461.17 920.87h0.94v0.94h-0.94zM414.00 921.81h0.94v0.94h-0.94zM419.66 921.81h0.94v0.94h-0.94zM421.55 921.81h0.94v0.94h-0.94zM423.43 921.81h1.89v0.94h-1.89zM426.26 921.81h0.94v0.94h-0.94zM429.09 921.81h0.94v0.94h-0.94zM436.64 921.81h0.94v0.94h-0.94zM439.47 921.81h0.94v0.94h-0.94zM441.36 921.81h0.94v0.94h-0.94zM445.13 921.81h0.94v0.94h-0.94zM447.02 921.81h0.94v0.94h-0.94zM448.91 921.81h0.94v0.94h-0.94zM452.68 921.81h0.94v0.94h-0.94zM454.57 921.81h0.94v0.94h-0.94zM456.45 921.81h0.94v0.94h-0.94zM458.34 921.81h5.66v0.94h-5.66zM414.00 922.76h6.60v0.94h-6.60zM422.49 922.76h1.89v0.94h-1.89zM426.26 922.76h0.94v0.94h-0.94zM428.15 922.76h0.94v0.94h-0.94zM431.92 922.76h0.94v0.94h-0.94zM434.75 922.76h0.94v0.94h-0.94zM436.64 922.76h3.77v0.94h-3.77zM444.19 922.76h0.94v0.94h-0.94zM447.96 922.76h4.72v0.94h-4.72zM454.57 922.76h2.83v0.94h-2.83zM462.11 922.76h0.94v0.94h-0.94z"/>
 </g>
</svg>

<div class="a num" style="left:247px;top:852.6px;letter-spacing:1.1px;">737031</div>
<div class="a num" style="left:331px;top:852.6px;letter-spacing:1.1px;">737036</div>
<div class="a num" style="left:414px;top:852.6px;letter-spacing:1.1px;">737037</div>

<div class="a" style="left:291px;top:950.5px;font-size:16.3px;font-weight:bold;color:#1a1a1a;">www.lightstar.ru</div>

</body></html>
